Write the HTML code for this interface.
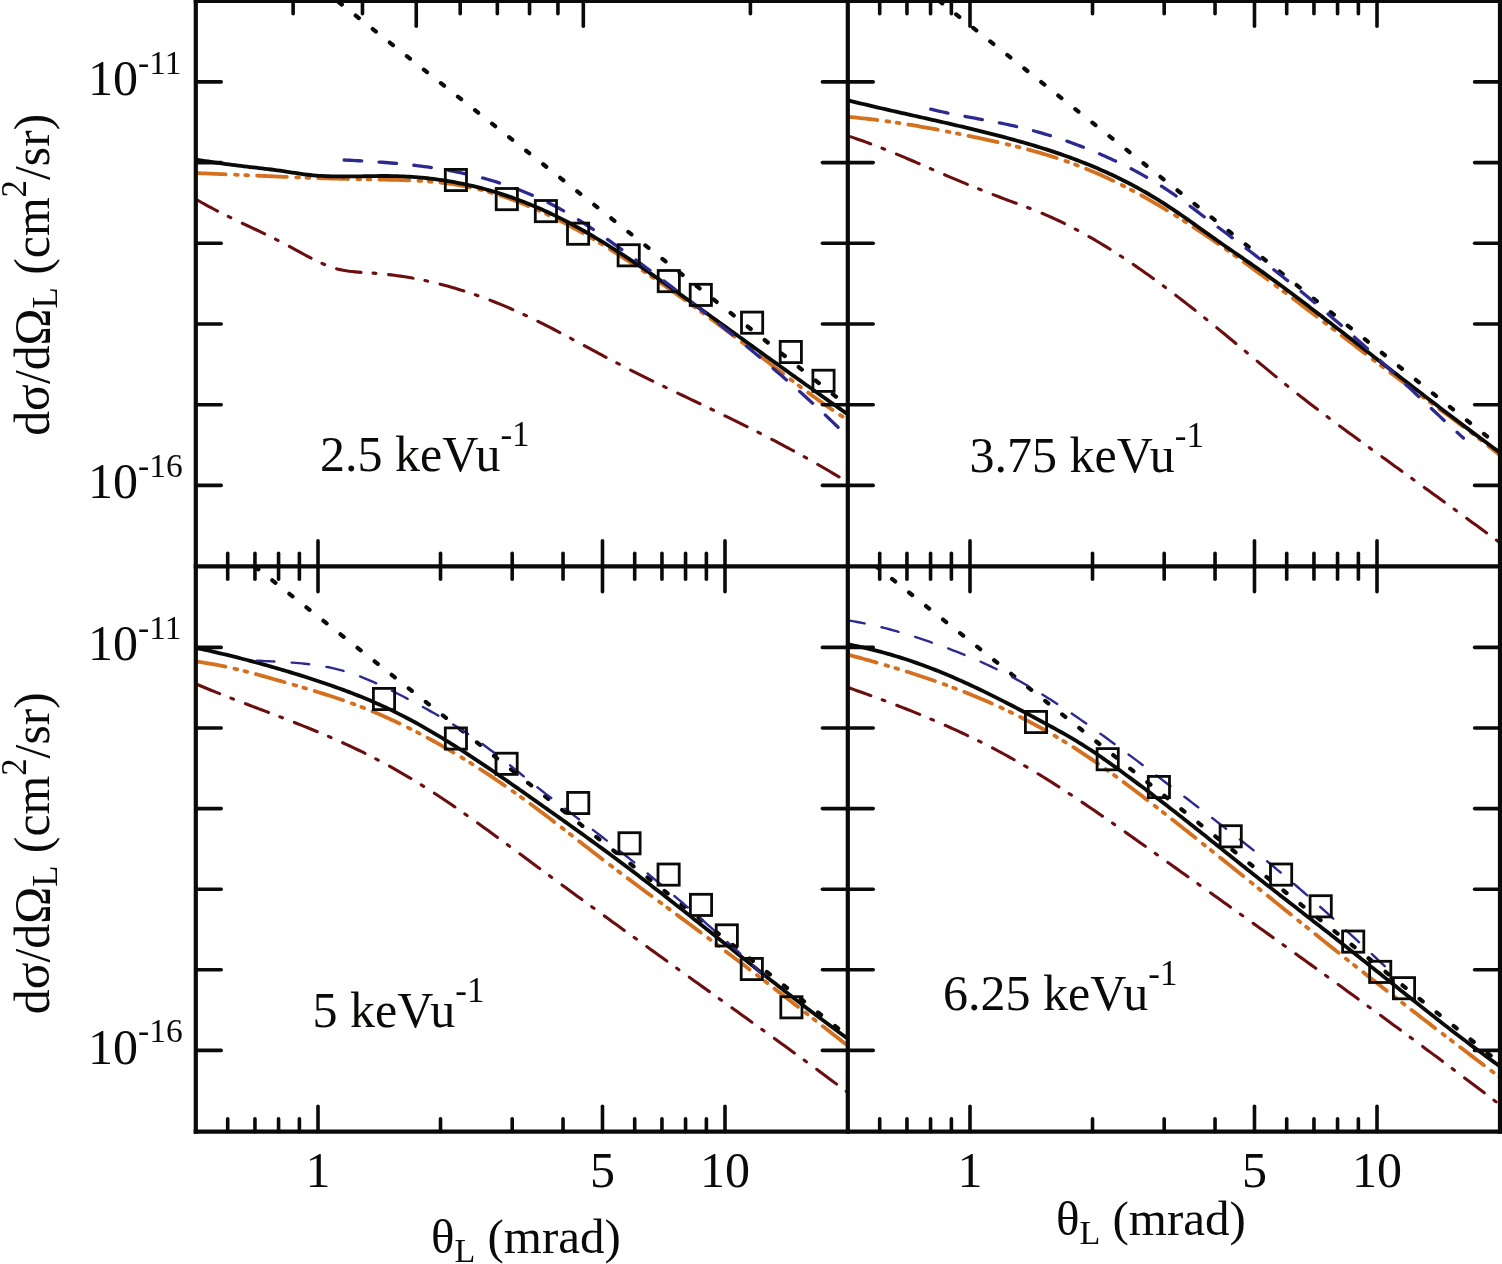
<!DOCTYPE html><html><head><meta charset="utf-8"><style>
html,body{margin:0;padding:0;background:#fff;}
svg{display:block;}
text{font-family:"Liberation Serif","DejaVu Serif",serif;fill:#0a0a08;}
</style></head><body>
<svg width="1502" height="1264" viewBox="0 0 1502 1264">
<rect x="0" y="0" width="1502" height="1264" fill="#fff"/>
<defs>
<clipPath id="cTL"><rect x="195.8" y="0.9" width="652.0" height="565.5"/></clipPath>
<clipPath id="cTR"><rect x="847.8" y="0.9" width="652.2" height="565.5"/></clipPath>
<clipPath id="cBL"><rect x="195.8" y="566.4" width="652.0" height="565.2"/></clipPath>
<clipPath id="cBR"><rect x="847.8" y="566.4" width="652.2" height="565.2"/></clipPath>
</defs>
<g clip-path="url(#cTL)">
<path d="M332.23,-3.10 L849.80,407.59" stroke="#0a0a08" stroke-width="4.2" fill="none" stroke-dasharray="4 17.75" stroke-linecap="round" stroke-dashoffset="-8.25"/>
<path d="M196.00,199.28 L199.00,201.02 L202.01,202.73 L205.01,204.41 L208.02,206.05 L211.02,207.66 L214.03,209.25 L217.03,210.81 L220.04,212.34 L223.04,213.86 L226.05,215.36 L229.05,216.84 L232.06,218.30 L235.06,219.76 L238.06,221.20 L241.07,222.64 L244.07,224.07 L247.08,225.49 L250.08,226.92 L253.09,228.34 L256.09,229.77 L259.10,231.20 L262.10,232.64 L265.11,234.09 L268.11,235.55 L271.12,237.03 L274.12,238.52 L277.12,240.02 L280.13,241.55 L283.13,243.10 L286.14,244.68 L289.14,246.28 L292.15,247.91 L295.15,249.55 L298.16,251.21 L301.16,252.86 L304.17,254.50 L307.17,256.12 L310.18,257.71 L313.18,259.25 L316.18,260.75 L319.19,262.18 L322.19,263.54 L325.20,264.81 L328.20,266.00 L331.21,267.08 L334.21,268.05 L337.22,268.89 L340.22,269.62 L343.23,270.24 L346.23,270.77 L349.24,271.21 L352.24,271.58 L355.24,271.89 L358.25,272.16 L361.25,272.38 L364.26,272.58 L367.26,272.77 L370.27,272.96 L373.27,273.17 L376.28,273.39 L379.28,273.64 L382.29,273.92 L385.29,274.22 L388.29,274.55 L391.30,274.90 L394.30,275.28 L397.31,275.68 L400.31,276.11 L403.32,276.57 L406.32,277.05 L409.33,277.56 L412.33,278.09 L415.34,278.64 L418.34,279.22 L421.35,279.83 L424.35,280.46 L427.35,281.11 L430.36,281.79 L433.36,282.50 L436.37,283.22 L439.37,283.97 L442.38,284.75 L445.38,285.55 L448.39,286.37 L451.39,287.22 L454.40,288.09 L457.40,288.98 L460.41,289.90 L463.41,290.84 L466.41,291.81 L469.42,292.79 L472.42,293.80 L475.43,294.83 L478.43,295.89 L481.44,296.97 L484.44,298.07 L487.45,299.19 L490.45,300.34 L493.46,301.51 L496.46,302.70 L499.47,303.91 L502.47,305.14 L505.47,306.40 L508.48,307.67 L511.48,308.97 L514.49,310.29 L517.49,311.64 L520.50,313.00 L523.50,314.39 L526.51,315.79 L529.51,317.22 L532.52,318.66 L535.52,320.13 L538.53,321.61 L541.53,323.11 L544.53,324.62 L547.54,326.15 L550.54,327.69 L553.55,329.25 L556.55,330.81 L559.56,332.39 L562.56,333.97 L565.57,335.57 L568.57,337.17 L571.58,338.77 L574.58,340.39 L577.59,342.00 L580.59,343.62 L583.59,345.24 L586.60,346.86 L589.60,348.48 L592.61,350.10 L595.61,351.72 L598.62,353.33 L601.62,354.94 L604.63,356.55 L607.63,358.15 L610.64,359.74 L613.64,361.32 L616.65,362.89 L619.65,364.45 L622.65,366.01 L625.66,367.55 L628.66,369.08 L631.67,370.60 L634.67,372.11 L637.68,373.62 L640.68,375.11 L643.69,376.60 L646.69,378.08 L649.70,379.56 L652.70,381.03 L655.71,382.49 L658.71,383.95 L661.71,385.40 L664.72,386.85 L667.72,388.30 L670.73,389.74 L673.73,391.18 L676.74,392.62 L679.74,394.06 L682.75,395.50 L685.75,396.93 L688.76,398.37 L691.76,399.80 L694.76,401.24 L697.77,402.68 L700.77,404.11 L703.78,405.56 L706.78,407.00 L709.79,408.45 L712.79,409.90 L715.80,411.35 L718.80,412.81 L721.81,414.27 L724.81,415.73 L727.82,417.20 L730.82,418.67 L733.82,420.15 L736.83,421.63 L739.83,423.12 L742.84,424.62 L745.84,426.12 L748.85,427.62 L751.85,429.14 L754.86,430.65 L757.86,432.18 L760.87,433.71 L763.87,435.25 L766.88,436.80 L769.88,438.36 L772.88,439.92 L775.89,441.49 L778.89,443.07 L781.90,444.66 L784.90,446.26 L787.91,447.87 L790.91,449.49 L793.92,451.12 L796.92,452.76 L799.93,454.40 L802.93,456.06 L805.94,457.73 L808.94,459.41 L811.94,461.11 L814.95,462.81 L817.95,464.53 L820.96,466.26 L823.96,468.00 L826.97,469.75 L829.97,471.52 L832.98,473.30 L835.98,475.09 L838.99,476.90 L841.99,478.72 L845.00,480.55 L848.00,482.40" stroke="#6a0e10" stroke-width="3.1" fill="none" stroke-dasharray="24.7 12.1 2.8 12.8" stroke-linecap="round" stroke-dashoffset="0.20"/>
<path d="M196.00,173.10 L199.00,173.22 L202.01,173.33 L205.01,173.45 L208.02,173.57 L211.02,173.70 L214.03,173.82 L217.03,173.94 L220.04,174.07 L223.04,174.20 L226.05,174.32 L229.05,174.45 L232.06,174.58 L235.06,174.71 L238.06,174.84 L241.07,174.97 L244.07,175.10 L247.08,175.23 L250.08,175.36 L253.09,175.50 L256.09,175.63 L259.10,175.76 L262.10,175.89 L265.11,176.02 L268.11,176.15 L271.12,176.27 L274.12,176.40 L277.12,176.53 L280.13,176.65 L283.13,176.78 L286.14,176.90 L289.14,177.03 L292.15,177.15 L295.15,177.27 L298.16,177.38 L301.16,177.50 L304.17,177.61 L307.17,177.73 L310.18,177.84 L313.18,177.94 L316.18,178.05 L319.19,178.15 L322.19,178.25 L325.20,178.35 L328.20,178.45 L331.21,178.54 L334.21,178.63 L337.22,178.72 L340.22,178.80 L343.23,178.88 L346.23,178.96 L349.24,179.04 L352.24,179.11 L355.24,179.17 L358.25,179.24 L361.25,179.30 L364.26,179.35 L367.26,179.41 L370.27,179.45 L373.27,179.50 L376.28,179.55 L379.28,179.59 L382.29,179.64 L385.29,179.69 L388.29,179.75 L391.30,179.81 L394.30,179.88 L397.31,179.95 L400.31,180.03 L403.32,180.13 L406.32,180.23 L409.33,180.35 L412.33,180.48 L415.34,180.63 L418.34,180.79 L421.35,180.97 L424.35,181.17 L427.35,181.39 L430.36,181.63 L433.36,181.89 L436.37,182.17 L439.37,182.48 L442.38,182.82 L445.38,183.18 L448.39,183.57 L451.39,183.99 L454.40,184.44 L457.40,184.92 L460.41,185.44 L463.41,185.98 L466.41,186.57 L469.42,187.19 L472.42,187.84 L475.43,188.53 L478.43,189.26 L481.44,190.01 L484.44,190.81 L487.45,191.63 L490.45,192.49 L493.46,193.38 L496.46,194.30 L499.47,195.26 L502.47,196.24 L505.47,197.26 L508.48,198.31 L511.48,199.38 L514.49,200.49 L517.49,201.63 L520.50,202.80 L523.50,204.00 L526.51,205.22 L529.51,206.48 L532.52,207.76 L535.52,209.07 L538.53,210.41 L541.53,211.77 L544.53,213.16 L547.54,214.58 L550.54,216.03 L553.55,217.50 L556.55,218.99 L559.56,220.51 L562.56,222.06 L565.57,223.62 L568.57,225.21 L571.58,226.83 L574.58,228.47 L577.59,230.12 L580.59,231.81 L583.59,233.51 L586.60,235.23 L589.60,236.97 L592.61,238.73 L595.61,240.52 L598.62,242.32 L601.62,244.14 L604.63,245.97 L607.63,247.83 L610.64,249.70 L613.64,251.59 L616.65,253.49 L619.65,255.41 L622.65,257.35 L625.66,259.30 L628.66,261.26 L631.67,263.24 L634.67,265.23 L637.68,267.24 L640.68,269.25 L643.69,271.28 L646.69,273.32 L649.70,275.38 L652.70,277.44 L655.71,279.51 L658.71,281.60 L661.71,283.69 L664.72,285.79 L667.72,287.90 L670.73,290.02 L673.73,292.14 L676.74,294.28 L679.74,296.41 L682.75,298.56 L685.75,300.71 L688.76,302.87 L691.76,305.03 L694.76,307.20 L697.77,309.37 L700.77,311.56 L703.78,313.74 L706.78,315.94 L709.79,318.14 L712.79,320.34 L715.80,322.56 L718.80,324.78 L721.81,327.01 L724.81,329.24 L727.82,331.49 L730.82,333.74 L733.82,335.99 L736.83,338.26 L739.83,340.53 L742.84,342.81 L745.84,345.10 L748.85,347.40 L751.85,349.70 L754.86,352.00 L757.86,354.31 L760.87,356.63 L763.87,358.94 L766.88,361.25 L769.88,363.57 L772.88,365.88 L775.89,368.19 L778.89,370.50 L781.90,372.81 L784.90,375.11 L787.91,377.40 L790.91,379.69 L793.92,381.96 L796.92,384.23 L799.93,386.49 L802.93,388.73 L805.94,390.96 L808.94,393.18 L811.94,395.38 L814.95,397.56 L817.95,399.73 L820.96,401.87 L823.96,404.00 L826.97,406.10 L829.97,408.19 L832.98,410.24 L835.98,412.28 L838.99,414.28 L841.99,416.26 L845.00,418.21 L848.00,420.13" stroke="#d4701e" stroke-width="3.8" fill="none" stroke-dasharray="29.8 9.3 2.8 7.5 2.8 9" stroke-linecap="round" stroke-dashoffset="0.06"/>
<path d="M196.00,159.63 L199.00,160.11 L202.01,160.57 L205.01,161.03 L208.02,161.48 L211.02,161.93 L214.03,162.36 L217.03,162.79 L220.04,163.21 L223.04,163.62 L226.05,164.03 L229.05,164.42 L232.06,164.82 L235.06,165.20 L238.06,165.58 L241.07,165.95 L244.07,166.32 L247.08,166.68 L250.08,167.03 L253.09,167.38 L256.09,167.73 L259.10,168.08 L262.10,168.42 L265.11,168.77 L268.11,169.13 L271.12,169.50 L274.12,169.88 L277.12,170.28 L280.13,170.70 L283.13,171.14 L286.14,171.59 L289.14,172.06 L292.15,172.53 L295.15,172.99 L298.16,173.44 L301.16,173.87 L304.17,174.28 L307.17,174.66 L310.18,175.00 L313.18,175.29 L316.18,175.55 L319.19,175.77 L322.19,175.95 L325.20,176.11 L328.20,176.23 L331.21,176.32 L334.21,176.40 L337.22,176.44 L340.22,176.47 L343.23,176.48 L346.23,176.47 L349.24,176.45 L352.24,176.42 L355.24,176.38 L358.25,176.33 L361.25,176.28 L364.26,176.23 L367.26,176.17 L370.27,176.12 L373.27,176.08 L376.28,176.04 L379.28,176.01 L382.29,176.00 L385.29,176.00 L388.29,176.01 L391.30,176.05 L394.30,176.10 L397.31,176.18 L400.31,176.28 L403.32,176.41 L406.32,176.56 L409.33,176.73 L412.33,176.92 L415.34,177.14 L418.34,177.39 L421.35,177.65 L424.35,177.94 L427.35,178.26 L430.36,178.60 L433.36,178.96 L436.37,179.35 L439.37,179.76 L442.38,180.20 L445.38,180.66 L448.39,181.15 L451.39,181.66 L454.40,182.20 L457.40,182.76 L460.41,183.35 L463.41,183.97 L466.41,184.61 L469.42,185.27 L472.42,185.96 L475.43,186.68 L478.43,187.43 L481.44,188.20 L484.44,188.99 L487.45,189.82 L490.45,190.67 L493.46,191.55 L496.46,192.45 L499.47,193.38 L502.47,194.34 L505.47,195.32 L508.48,196.34 L511.48,197.38 L514.49,198.45 L517.49,199.54 L520.50,200.67 L523.50,201.82 L526.51,203.00 L529.51,204.21 L532.52,205.44 L535.52,206.71 L538.53,208.00 L541.53,209.33 L544.53,210.68 L547.54,212.06 L550.54,213.47 L553.55,214.91 L556.55,216.37 L559.56,217.87 L562.56,219.39 L565.57,220.94 L568.57,222.52 L571.58,224.12 L574.58,225.74 L577.59,227.39 L580.59,229.06 L583.59,230.76 L586.60,232.48 L589.60,234.22 L592.61,235.99 L595.61,237.77 L598.62,239.58 L601.62,241.40 L604.63,243.24 L607.63,245.11 L610.64,246.99 L613.64,248.89 L616.65,250.80 L619.65,252.73 L622.65,254.68 L625.66,256.64 L628.66,258.62 L631.67,260.61 L634.67,262.62 L637.68,264.64 L640.68,266.67 L643.69,268.71 L646.69,270.77 L649.70,272.83 L652.70,274.91 L655.71,276.99 L658.71,279.09 L661.71,281.19 L664.72,283.30 L667.72,285.42 L670.73,287.55 L673.73,289.68 L676.74,291.81 L679.74,293.96 L682.75,296.10 L685.75,298.25 L688.76,300.41 L691.76,302.57 L694.76,304.73 L697.77,306.89 L700.77,309.05 L703.78,311.21 L706.78,313.38 L709.79,315.54 L712.79,317.71 L715.80,319.87 L718.80,322.04 L721.81,324.20 L724.81,326.37 L727.82,328.54 L730.82,330.70 L733.82,332.87 L736.83,335.04 L739.83,337.20 L742.84,339.37 L745.84,341.54 L748.85,343.70 L751.85,345.87 L754.86,348.03 L757.86,350.20 L760.87,352.36 L763.87,354.52 L766.88,356.68 L769.88,358.84 L772.88,361.00 L775.89,363.16 L778.89,365.32 L781.90,367.48 L784.90,369.63 L787.91,371.79 L790.91,373.94 L793.92,376.09 L796.92,378.24 L799.93,380.39 L802.93,382.54 L805.94,384.68 L808.94,386.82 L811.94,388.96 L814.95,391.10 L817.95,393.24 L820.96,395.37 L823.96,397.51 L826.97,399.64 L829.97,401.76 L832.98,403.89 L835.98,406.01 L838.99,408.13 L841.99,410.25 L845.00,412.36 L848.00,414.48" stroke="#0a0a08" stroke-width="3.8" fill="none" stroke-linejoin="round" stroke-linecap="round"/>
<path d="M343.20,159.98 L346.20,160.12 L349.20,160.27 L352.21,160.42 L355.21,160.58 L358.21,160.74 L361.21,160.91 L364.21,161.08 L367.21,161.26 L370.22,161.44 L373.22,161.64 L376.22,161.84 L379.22,162.05 L382.22,162.27 L385.23,162.50 L388.23,162.74 L391.23,162.99 L394.23,163.25 L397.23,163.52 L400.23,163.80 L403.24,164.09 L406.24,164.40 L409.24,164.72 L412.24,165.06 L415.24,165.40 L418.25,165.77 L421.25,166.15 L424.25,166.54 L427.25,166.95 L430.25,167.38 L433.25,167.82 L436.26,168.28 L439.26,168.76 L442.26,169.26 L445.26,169.78 L448.26,170.31 L451.27,170.87 L454.27,171.44 L457.27,172.04 L460.27,172.66 L463.27,173.30 L466.27,173.97 L469.28,174.65 L472.28,175.36 L475.28,176.10 L478.28,176.85 L481.28,177.64 L484.29,178.44 L487.29,179.28 L490.29,180.14 L493.29,181.02 L496.29,181.94 L499.29,182.88 L502.30,183.85 L505.30,184.85 L508.30,185.87 L511.30,186.93 L514.30,188.02 L517.31,189.14 L520.31,190.29 L523.31,191.48 L526.31,192.70 L529.31,193.95 L532.31,195.24 L535.32,196.56 L538.32,197.92 L541.32,199.31 L544.32,200.74 L547.32,202.21 L550.33,203.72 L553.33,205.27 L556.33,206.86 L559.33,208.49 L562.33,210.16 L565.33,211.87 L568.34,213.62 L571.34,215.41 L574.34,217.24 L577.34,219.10 L580.34,221.00 L583.35,222.93 L586.35,224.89 L589.35,226.87 L592.35,228.89 L595.35,230.92 L598.35,232.98 L601.36,235.06 L604.36,237.16 L607.36,239.28 L610.36,241.41 L613.36,243.56 L616.37,245.72 L619.37,247.89 L622.37,250.07 L625.37,252.25 L628.37,254.44 L631.37,256.64 L634.38,258.85 L637.38,261.06 L640.38,263.28 L643.38,265.51 L646.38,267.74 L649.39,269.99 L652.39,272.23 L655.39,274.49 L658.39,276.75 L661.39,279.02 L664.39,281.30 L667.40,283.58 L670.40,285.87 L673.40,288.17 L676.40,290.47 L679.40,292.78 L682.41,295.10 L685.41,297.42 L688.41,299.75 L691.41,302.09 L694.41,304.43 L697.41,306.78 L700.42,309.14 L703.42,311.50 L706.42,313.88 L709.42,316.25 L712.42,318.64 L715.43,321.03 L718.43,323.42 L721.43,325.82 L724.43,328.23 L727.43,330.65 L730.43,333.07 L733.44,335.50 L736.44,337.94 L739.44,340.38 L742.44,342.83 L745.44,345.28 L748.45,347.75 L751.45,350.22 L754.45,352.71 L757.45,355.20 L760.45,357.70 L763.45,360.21 L766.46,362.74 L769.46,365.27 L772.46,367.82 L775.46,370.38 L778.46,372.95 L781.47,375.53 L784.47,378.13 L787.47,380.74 L790.47,383.37 L793.47,386.01 L796.47,388.66 L799.48,391.33 L802.48,394.02 L805.48,396.73 L808.48,399.45 L811.48,402.19 L814.49,404.94 L817.49,407.72 L820.49,410.51 L823.49,413.32 L826.49,416.16 L829.49,419.01 L832.50,421.88 L835.50,424.78 L838.50,427.69" stroke="#2c2a8e" stroke-width="3.3" fill="none" stroke-dasharray="17.6 17.4" stroke-linecap="round" stroke-dashoffset="34.10"/>
<rect x="445.30" y="169.40" width="21.2" height="21.2" fill="none" stroke="#0a0a08" stroke-width="2.8"/>
<rect x="496.20" y="188.50" width="21.2" height="21.2" fill="none" stroke="#0a0a08" stroke-width="2.8"/>
<rect x="535.30" y="200.50" width="21.2" height="21.2" fill="none" stroke="#0a0a08" stroke-width="2.8"/>
<rect x="567.50" y="223.10" width="21.2" height="21.2" fill="none" stroke="#0a0a08" stroke-width="2.8"/>
<rect x="618.10" y="244.70" width="21.2" height="21.2" fill="none" stroke="#0a0a08" stroke-width="2.8"/>
<rect x="658.20" y="270.50" width="21.2" height="21.2" fill="none" stroke="#0a0a08" stroke-width="2.8"/>
<rect x="690.20" y="284.30" width="21.2" height="21.2" fill="none" stroke="#0a0a08" stroke-width="2.8"/>
<rect x="741.50" y="312.10" width="21.2" height="21.2" fill="none" stroke="#0a0a08" stroke-width="2.8"/>
<rect x="780.20" y="341.40" width="21.2" height="21.2" fill="none" stroke="#0a0a08" stroke-width="2.8"/>
<rect x="812.90" y="370.20" width="21.2" height="21.2" fill="none" stroke="#0a0a08" stroke-width="2.8"/>
</g>
<g clip-path="url(#cTR)">
<path d="M934.18,-3.10 L1502.00,448.31" stroke="#0a0a08" stroke-width="4.2" fill="none" stroke-dasharray="4 17.75" stroke-linecap="round" stroke-dashoffset="-6.32"/>
<path d="M848.00,135.91 L851.00,136.89 L854.01,137.89 L857.01,138.91 L860.02,139.96 L863.02,141.03 L866.03,142.11 L869.03,143.22 L872.04,144.35 L875.04,145.49 L878.05,146.65 L881.05,147.83 L884.06,149.02 L887.06,150.22 L890.06,151.44 L893.07,152.67 L896.07,153.91 L899.08,155.16 L902.08,156.42 L905.09,157.69 L908.09,158.97 L911.10,160.25 L914.10,161.54 L917.11,162.83 L920.11,164.13 L923.12,165.42 L926.12,166.73 L929.12,168.03 L932.13,169.33 L935.13,170.63 L938.14,171.93 L941.14,173.23 L944.15,174.52 L947.15,175.81 L950.16,177.09 L953.16,178.37 L956.17,179.64 L959.17,180.90 L962.18,182.16 L965.18,183.40 L968.18,184.64 L971.19,185.88 L974.19,187.10 L977.20,188.31 L980.20,189.52 L983.21,190.72 L986.21,191.91 L989.22,193.09 L992.22,194.26 L995.23,195.42 L998.23,196.57 L1001.24,197.72 L1004.24,198.85 L1007.24,199.97 L1010.25,201.09 L1013.25,202.20 L1016.26,203.30 L1019.26,204.41 L1022.27,205.53 L1025.27,206.65 L1028.28,207.78 L1031.28,208.94 L1034.29,210.11 L1037.29,211.30 L1040.29,212.52 L1043.30,213.78 L1046.30,215.06 L1049.31,216.38 L1052.31,217.72 L1055.32,219.10 L1058.32,220.51 L1061.33,221.95 L1064.33,223.42 L1067.34,224.92 L1070.34,226.45 L1073.35,228.01 L1076.35,229.60 L1079.35,231.21 L1082.36,232.85 L1085.36,234.52 L1088.37,236.22 L1091.37,237.94 L1094.38,239.68 L1097.38,241.46 L1100.39,243.25 L1103.39,245.08 L1106.40,246.92 L1109.40,248.79 L1112.41,250.68 L1115.41,252.60 L1118.41,254.54 L1121.42,256.50 L1124.42,258.48 L1127.43,260.49 L1130.43,262.51 L1133.44,264.55 L1136.44,266.62 L1139.45,268.70 L1142.45,270.81 L1145.46,272.93 L1148.46,275.07 L1151.47,277.23 L1154.47,279.40 L1157.47,281.60 L1160.48,283.81 L1163.48,286.03 L1166.49,288.27 L1169.49,290.53 L1172.50,292.80 L1175.50,295.09 L1178.51,297.39 L1181.51,299.70 L1184.52,302.03 L1187.52,304.37 L1190.53,306.72 L1193.53,309.09 L1196.53,311.47 L1199.54,313.85 L1202.54,316.25 L1205.55,318.66 L1208.55,321.08 L1211.56,323.51 L1214.56,325.95 L1217.57,328.39 L1220.57,330.85 L1223.58,333.31 L1226.58,335.78 L1229.59,338.26 L1232.59,340.74 L1235.59,343.23 L1238.60,345.72 L1241.60,348.22 L1244.61,350.71 L1247.61,353.21 L1250.62,355.71 L1253.62,358.21 L1256.63,360.70 L1259.63,363.19 L1262.64,365.68 L1265.64,368.16 L1268.65,370.64 L1271.65,373.11 L1274.65,375.58 L1277.66,378.03 L1280.66,380.48 L1283.67,382.91 L1286.67,385.34 L1289.68,387.75 L1292.68,390.15 L1295.69,392.53 L1298.69,394.90 L1301.70,397.25 L1304.70,399.59 L1307.71,401.91 L1310.71,404.23 L1313.71,406.53 L1316.72,408.81 L1319.72,411.09 L1322.73,413.36 L1325.73,415.61 L1328.74,417.86 L1331.74,420.10 L1334.75,422.33 L1337.75,424.55 L1340.76,426.77 L1343.76,428.98 L1346.76,431.19 L1349.77,433.39 L1352.77,435.59 L1355.78,437.78 L1358.78,439.97 L1361.79,442.16 L1364.79,444.35 L1367.80,446.53 L1370.80,448.71 L1373.81,450.90 L1376.81,453.08 L1379.82,455.26 L1382.82,457.44 L1385.82,459.62 L1388.83,461.79 L1391.83,463.97 L1394.84,466.15 L1397.84,468.32 L1400.85,470.50 L1403.85,472.67 L1406.86,474.85 L1409.86,477.02 L1412.87,479.20 L1415.87,481.37 L1418.88,483.55 L1421.88,485.72 L1424.88,487.90 L1427.89,490.08 L1430.89,492.25 L1433.90,494.43 L1436.90,496.61 L1439.91,498.79 L1442.91,500.98 L1445.92,503.16 L1448.92,505.34 L1451.93,507.53 L1454.93,509.72 L1457.94,511.91 L1460.94,514.10 L1463.94,516.29 L1466.95,518.49 L1469.95,520.69 L1472.96,522.89 L1475.96,525.09 L1478.97,527.30 L1481.97,529.51 L1484.98,531.72 L1487.98,533.93 L1490.99,536.15 L1493.99,538.37 L1497.00,540.59 L1500.00,542.82" stroke="#6a0e10" stroke-width="3.1" fill="none" stroke-dasharray="24.7 12.1 2.8 12.8" stroke-linecap="round" stroke-dashoffset="0.64"/>
<path d="M848.00,116.90 L851.00,117.16 L854.01,117.44 L857.01,117.72 L860.02,118.03 L863.02,118.34 L866.03,118.67 L869.03,119.01 L872.04,119.36 L875.04,119.73 L878.05,120.10 L881.05,120.49 L884.06,120.89 L887.06,121.30 L890.06,121.73 L893.07,122.16 L896.07,122.61 L899.08,123.06 L902.08,123.53 L905.09,124.00 L908.09,124.48 L911.10,124.98 L914.10,125.48 L917.11,125.99 L920.11,126.51 L923.12,127.04 L926.12,127.58 L929.12,128.12 L932.13,128.67 L935.13,129.23 L938.14,129.80 L941.14,130.37 L944.15,130.95 L947.15,131.54 L950.16,132.13 L953.16,132.73 L956.17,133.33 L959.17,133.94 L962.18,134.55 L965.18,135.17 L968.18,135.80 L971.19,136.43 L974.19,137.06 L977.20,137.69 L980.20,138.33 L983.21,138.98 L986.21,139.63 L989.22,140.28 L992.22,140.94 L995.23,141.60 L998.23,142.28 L1001.24,142.96 L1004.24,143.65 L1007.24,144.35 L1010.25,145.06 L1013.25,145.78 L1016.26,146.52 L1019.26,147.27 L1022.27,148.03 L1025.27,148.80 L1028.28,149.60 L1031.28,150.40 L1034.29,151.23 L1037.29,152.07 L1040.29,152.93 L1043.30,153.81 L1046.30,154.71 L1049.31,155.63 L1052.31,156.57 L1055.32,157.54 L1058.32,158.52 L1061.33,159.53 L1064.33,160.57 L1067.34,161.63 L1070.34,162.71 L1073.35,163.81 L1076.35,164.94 L1079.35,166.10 L1082.36,167.28 L1085.36,168.48 L1088.37,169.71 L1091.37,170.96 L1094.38,172.23 L1097.38,173.54 L1100.39,174.86 L1103.39,176.21 L1106.40,177.59 L1109.40,178.99 L1112.41,180.42 L1115.41,181.87 L1118.41,183.34 L1121.42,184.84 L1124.42,186.37 L1127.43,187.92 L1130.43,189.49 L1133.44,191.08 L1136.44,192.70 L1139.45,194.34 L1142.45,196.00 L1145.46,197.68 L1148.46,199.38 L1151.47,201.10 L1154.47,202.84 L1157.47,204.61 L1160.48,206.39 L1163.48,208.19 L1166.49,210.01 L1169.49,211.85 L1172.50,213.70 L1175.50,215.58 L1178.51,217.47 L1181.51,219.38 L1184.52,221.30 L1187.52,223.24 L1190.53,225.19 L1193.53,227.17 L1196.53,229.15 L1199.54,231.15 L1202.54,233.17 L1205.55,235.19 L1208.55,237.23 L1211.56,239.29 L1214.56,241.35 L1217.57,243.43 L1220.57,245.52 L1223.58,247.63 L1226.58,249.74 L1229.59,251.86 L1232.59,254.00 L1235.59,256.14 L1238.60,258.30 L1241.60,260.46 L1244.61,262.63 L1247.61,264.81 L1250.62,267.00 L1253.62,269.20 L1256.63,271.40 L1259.63,273.61 L1262.64,275.83 L1265.64,278.05 L1268.65,280.28 L1271.65,282.51 L1274.65,284.75 L1277.66,287.00 L1280.66,289.25 L1283.67,291.50 L1286.67,293.76 L1289.68,296.02 L1292.68,298.29 L1295.69,300.56 L1298.69,302.84 L1301.70,305.11 L1304.70,307.39 L1307.71,309.68 L1310.71,311.96 L1313.71,314.25 L1316.72,316.54 L1319.72,318.83 L1322.73,321.13 L1325.73,323.42 L1328.74,325.72 L1331.74,328.02 L1334.75,330.31 L1337.75,332.61 L1340.76,334.91 L1343.76,337.21 L1346.76,339.51 L1349.77,341.81 L1352.77,344.10 L1355.78,346.40 L1358.78,348.70 L1361.79,350.99 L1364.79,353.28 L1367.80,355.57 L1370.80,357.86 L1373.81,360.15 L1376.81,362.43 L1379.82,364.71 L1382.82,366.99 L1385.82,369.26 L1388.83,371.53 L1391.83,373.80 L1394.84,376.06 L1397.84,378.32 L1400.85,380.57 L1403.85,382.82 L1406.86,385.07 L1409.86,387.31 L1412.87,389.54 L1415.87,391.77 L1418.88,393.99 L1421.88,396.21 L1424.88,398.42 L1427.89,400.63 L1430.89,402.83 L1433.90,405.03 L1436.90,407.22 L1439.91,409.42 L1442.91,411.62 L1445.92,413.82 L1448.92,416.02 L1451.93,418.23 L1454.93,420.45 L1457.94,422.67 L1460.94,424.90 L1463.94,427.14 L1466.95,429.40 L1469.95,431.66 L1472.96,433.94 L1475.96,436.24 L1478.97,438.55 L1481.97,440.88 L1484.98,443.23 L1487.98,445.60 L1490.99,447.99 L1493.99,450.41 L1497.00,452.85 L1500.00,455.31" stroke="#d4701e" stroke-width="3.8" fill="none" stroke-dasharray="29.8 9.3 2.8 7.5 2.8 9" stroke-linecap="round" stroke-dashoffset="0.38"/>
<path d="M848.00,100.34 L851.00,101.08 L854.01,101.82 L857.01,102.55 L860.02,103.28 L863.02,104.00 L866.03,104.72 L869.03,105.43 L872.04,106.14 L875.04,106.84 L878.05,107.54 L881.05,108.23 L884.06,108.93 L887.06,109.62 L890.06,110.30 L893.07,110.99 L896.07,111.67 L899.08,112.35 L902.08,113.03 L905.09,113.70 L908.09,114.38 L911.10,115.06 L914.10,115.73 L917.11,116.40 L920.11,117.08 L923.12,117.75 L926.12,118.43 L929.12,119.11 L932.13,119.79 L935.13,120.47 L938.14,121.15 L941.14,121.83 L944.15,122.52 L947.15,123.21 L950.16,123.90 L953.16,124.59 L956.17,125.29 L959.17,125.99 L962.18,126.70 L965.18,127.41 L968.18,128.13 L971.19,128.85 L974.19,129.57 L977.20,130.31 L980.20,131.04 L983.21,131.79 L986.21,132.54 L989.22,133.29 L992.22,134.06 L995.23,134.83 L998.23,135.61 L1001.24,136.39 L1004.24,137.19 L1007.24,137.99 L1010.25,138.80 L1013.25,139.62 L1016.26,140.46 L1019.26,141.30 L1022.27,142.15 L1025.27,143.01 L1028.28,143.89 L1031.28,144.77 L1034.29,145.67 L1037.29,146.59 L1040.29,147.51 L1043.30,148.45 L1046.30,149.41 L1049.31,150.38 L1052.31,151.37 L1055.32,152.37 L1058.32,153.39 L1061.33,154.42 L1064.33,155.47 L1067.34,156.54 L1070.34,157.63 L1073.35,158.74 L1076.35,159.87 L1079.35,161.02 L1082.36,162.18 L1085.36,163.37 L1088.37,164.58 L1091.37,165.82 L1094.38,167.07 L1097.38,168.35 L1100.39,169.65 L1103.39,170.97 L1106.40,172.32 L1109.40,173.69 L1112.41,175.09 L1115.41,176.51 L1118.41,177.96 L1121.42,179.44 L1124.42,180.94 L1127.43,182.48 L1130.43,184.04 L1133.44,185.62 L1136.44,187.24 L1139.45,188.89 L1142.45,190.56 L1145.46,192.27 L1148.46,194.01 L1151.47,195.78 L1154.47,197.58 L1157.47,199.42 L1160.48,201.28 L1163.48,203.18 L1166.49,205.12 L1169.49,207.08 L1172.50,209.08 L1175.50,211.10 L1178.51,213.15 L1181.51,215.22 L1184.52,217.31 L1187.52,219.41 L1190.53,221.53 L1193.53,223.66 L1196.53,225.80 L1199.54,227.94 L1202.54,230.09 L1205.55,232.24 L1208.55,234.38 L1211.56,236.52 L1214.56,238.66 L1217.57,240.78 L1220.57,242.89 L1223.58,244.99 L1226.58,247.07 L1229.59,249.15 L1232.59,251.22 L1235.59,253.29 L1238.60,255.35 L1241.60,257.42 L1244.61,259.49 L1247.61,261.57 L1250.62,263.67 L1253.62,265.77 L1256.63,267.89 L1259.63,270.02 L1262.64,272.17 L1265.64,274.32 L1268.65,276.49 L1271.65,278.68 L1274.65,280.87 L1277.66,283.07 L1280.66,285.29 L1283.67,287.51 L1286.67,289.75 L1289.68,291.99 L1292.68,294.24 L1295.69,296.50 L1298.69,298.77 L1301.70,301.04 L1304.70,303.32 L1307.71,305.61 L1310.71,307.90 L1313.71,310.20 L1316.72,312.50 L1319.72,314.81 L1322.73,317.12 L1325.73,319.43 L1328.74,321.75 L1331.74,324.07 L1334.75,326.39 L1337.75,328.71 L1340.76,331.04 L1343.76,333.36 L1346.76,335.69 L1349.77,338.02 L1352.77,340.35 L1355.78,342.68 L1358.78,345.01 L1361.79,347.34 L1364.79,349.67 L1367.80,352.01 L1370.80,354.34 L1373.81,356.67 L1376.81,359.00 L1379.82,361.33 L1382.82,363.66 L1385.82,365.99 L1388.83,368.32 L1391.83,370.65 L1394.84,372.98 L1397.84,375.31 L1400.85,377.63 L1403.85,379.95 L1406.86,382.28 L1409.86,384.60 L1412.87,386.91 L1415.87,389.23 L1418.88,391.54 L1421.88,393.85 L1424.88,396.16 L1427.89,398.47 L1430.89,400.77 L1433.90,403.07 L1436.90,405.36 L1439.91,407.66 L1442.91,409.95 L1445.92,412.23 L1448.92,414.52 L1451.93,416.79 L1454.93,419.07 L1457.94,421.34 L1460.94,423.60 L1463.94,425.86 L1466.95,428.12 L1469.95,430.37 L1472.96,432.62 L1475.96,434.86 L1478.97,437.10 L1481.97,439.33 L1484.98,441.55 L1487.98,443.77 L1490.99,445.99 L1493.99,448.19 L1497.00,450.39 L1500.00,452.59" stroke="#0a0a08" stroke-width="3.8" fill="none" stroke-linejoin="round" stroke-linecap="round"/>
<path d="M929.70,108.94 L932.72,109.67 L935.73,110.38 L938.75,111.08 L941.76,111.75 L944.78,112.40 L947.79,113.03 L950.81,113.65 L953.82,114.26 L956.84,114.85 L959.85,115.43 L962.87,116.00 L965.88,116.57 L968.90,117.13 L971.91,117.69 L974.93,118.24 L977.94,118.80 L980.96,119.35 L983.97,119.91 L986.99,120.47 L990.01,121.03 L993.02,121.60 L996.04,122.19 L999.05,122.78 L1002.07,123.38 L1005.08,124.00 L1008.10,124.63 L1011.11,125.29 L1014.13,125.95 L1017.14,126.64 L1020.16,127.35 L1023.17,128.09 L1026.19,128.84 L1029.20,129.62 L1032.22,130.41 L1035.23,131.23 L1038.25,132.07 L1041.26,132.93 L1044.28,133.82 L1047.29,134.73 L1050.31,135.65 L1053.33,136.60 L1056.34,137.57 L1059.36,138.57 L1062.37,139.58 L1065.39,140.62 L1068.40,141.67 L1071.42,142.75 L1074.43,143.85 L1077.45,144.98 L1080.46,146.12 L1083.48,147.29 L1086.49,148.47 L1089.51,149.68 L1092.52,150.91 L1095.54,152.16 L1098.55,153.44 L1101.57,154.73 L1104.58,156.05 L1107.60,157.39 L1110.62,158.76 L1113.63,160.15 L1116.65,161.56 L1119.66,163.01 L1122.68,164.48 L1125.69,165.97 L1128.71,167.50 L1131.72,169.06 L1134.74,170.65 L1137.75,172.27 L1140.77,173.92 L1143.78,175.61 L1146.80,177.33 L1149.81,179.08 L1152.83,180.87 L1155.84,182.70 L1158.86,184.57 L1161.87,186.47 L1164.89,188.41 L1167.91,190.39 L1170.92,192.42 L1173.94,194.48 L1176.95,196.59 L1179.97,198.74 L1182.98,200.92 L1186.00,203.14 L1189.01,205.38 L1192.03,207.64 L1195.04,209.91 L1198.06,212.19 L1201.07,214.47 L1204.09,216.75 L1207.10,219.02 L1210.12,221.28 L1213.13,223.53 L1216.15,225.79 L1219.16,228.04 L1222.18,230.29 L1225.19,232.54 L1228.21,234.80 L1231.23,237.06 L1234.24,239.32 L1237.26,241.60 L1240.27,243.87 L1243.29,246.16 L1246.30,248.45 L1249.32,250.75 L1252.33,253.06 L1255.35,255.37 L1258.36,257.69 L1261.38,260.02 L1264.39,262.36 L1267.41,264.70 L1270.42,267.06 L1273.44,269.42 L1276.45,271.79 L1279.47,274.17 L1282.48,276.56 L1285.50,278.96 L1288.52,281.37 L1291.53,283.79 L1294.55,286.22 L1297.56,288.67 L1300.58,291.12 L1303.59,293.58 L1306.61,296.06 L1309.62,298.55 L1312.64,301.04 L1315.65,303.56 L1318.67,306.08 L1321.68,308.61 L1324.70,311.16 L1327.71,313.73 L1330.73,316.30 L1333.74,318.89 L1336.76,321.49 L1339.77,324.11 L1342.79,326.74 L1345.81,329.39 L1348.82,332.05 L1351.84,334.72 L1354.85,337.41 L1357.87,340.12 L1360.88,342.83 L1363.90,345.56 L1366.91,348.31 L1369.93,351.06 L1372.94,353.83 L1375.96,356.60 L1378.97,359.39 L1381.99,362.18 L1385.00,364.98 L1388.02,367.79 L1391.03,370.60 L1394.05,373.42 L1397.06,376.24 L1400.08,379.07 L1403.09,381.90 L1406.11,384.74 L1409.13,387.57 L1412.14,390.41 L1415.16,393.25 L1418.17,396.08 L1421.19,398.92 L1424.20,401.75 L1427.22,404.59 L1430.23,407.41 L1433.25,410.24 L1436.26,413.06 L1439.28,415.87 L1442.29,418.68 L1445.31,421.48 L1448.32,424.27 L1451.34,427.05 L1454.35,429.83 L1457.37,432.59 L1460.38,435.35 L1463.40,438.09" stroke="#2c2a8e" stroke-width="3.3" fill="none" stroke-dasharray="17.6 17.4" stroke-linecap="round" stroke-dashoffset="33.90"/>
</g>
<g clip-path="url(#cBL)">
<path d="M249.70,562.40 L849.80,1037.68" stroke="#0a0a08" stroke-width="4.2" fill="none" stroke-dasharray="4 17.75" stroke-linecap="round" stroke-dashoffset="-7.11"/>
<path d="M196.00,684.01 L199.00,685.27 L202.01,686.52 L205.01,687.76 L208.02,688.99 L211.02,690.21 L214.03,691.43 L217.03,692.63 L220.04,693.82 L223.04,695.01 L226.05,696.19 L229.05,697.37 L232.06,698.53 L235.06,699.70 L238.06,700.86 L241.07,702.01 L244.07,703.16 L247.08,704.31 L250.08,705.46 L253.09,706.60 L256.09,707.75 L259.10,708.89 L262.10,710.03 L265.11,711.17 L268.11,712.32 L271.12,713.47 L274.12,714.61 L277.12,715.77 L280.13,716.92 L283.13,718.08 L286.14,719.24 L289.14,720.41 L292.15,721.59 L295.15,722.77 L298.16,723.95 L301.16,725.15 L304.17,726.35 L307.17,727.56 L310.18,728.78 L313.18,730.01 L316.18,731.25 L319.19,732.51 L322.19,733.77 L325.20,735.04 L328.20,736.33 L331.21,737.63 L334.21,738.94 L337.22,740.27 L340.22,741.62 L343.23,742.97 L346.23,744.35 L349.24,745.74 L352.24,747.15 L355.24,748.57 L358.25,750.02 L361.25,751.48 L364.26,752.96 L367.26,754.46 L370.27,755.99 L373.27,757.53 L376.28,759.09 L379.28,760.67 L382.29,762.28 L385.29,763.90 L388.29,765.54 L391.30,767.20 L394.30,768.89 L397.31,770.59 L400.31,772.31 L403.32,774.05 L406.32,775.81 L409.33,777.59 L412.33,779.40 L415.34,781.22 L418.34,783.06 L421.35,784.92 L424.35,786.80 L427.35,788.70 L430.36,790.62 L433.36,792.56 L436.37,794.52 L439.37,796.49 L442.38,798.49 L445.38,800.50 L448.39,802.53 L451.39,804.58 L454.40,806.64 L457.40,808.71 L460.41,810.80 L463.41,812.90 L466.41,815.02 L469.42,817.14 L472.42,819.28 L475.43,821.42 L478.43,823.58 L481.44,825.74 L484.44,827.91 L487.45,830.09 L490.45,832.27 L493.46,834.46 L496.46,836.66 L499.47,838.86 L502.47,841.06 L505.47,843.26 L508.48,845.47 L511.48,847.68 L514.49,849.90 L517.49,852.11 L520.50,854.33 L523.50,856.55 L526.51,858.77 L529.51,860.99 L532.52,863.21 L535.52,865.43 L538.53,867.65 L541.53,869.87 L544.53,872.09 L547.54,874.31 L550.54,876.53 L553.55,878.75 L556.55,880.97 L559.56,883.18 L562.56,885.39 L565.57,887.60 L568.57,889.81 L571.58,892.02 L574.58,894.22 L577.59,896.42 L580.59,898.61 L583.59,900.81 L586.60,903.00 L589.60,905.19 L592.61,907.38 L595.61,909.57 L598.62,911.76 L601.62,913.94 L604.63,916.12 L607.63,918.30 L610.64,920.48 L613.64,922.66 L616.65,924.83 L619.65,927.01 L622.65,929.18 L625.66,931.35 L628.66,933.52 L631.67,935.70 L634.67,937.86 L637.68,940.03 L640.68,942.20 L643.69,944.37 L646.69,946.54 L649.70,948.70 L652.70,950.87 L655.71,953.03 L658.71,955.20 L661.71,957.36 L664.72,959.52 L667.72,961.69 L670.73,963.85 L673.73,966.01 L676.74,968.17 L679.74,970.34 L682.75,972.50 L685.75,974.66 L688.76,976.82 L691.76,978.98 L694.76,981.14 L697.77,983.30 L700.77,985.46 L703.78,987.62 L706.78,989.77 L709.79,991.93 L712.79,994.09 L715.80,996.25 L718.80,998.41 L721.81,1000.57 L724.81,1002.73 L727.82,1004.88 L730.82,1007.04 L733.82,1009.20 L736.83,1011.36 L739.83,1013.52 L742.84,1015.69 L745.84,1017.85 L748.85,1020.01 L751.85,1022.18 L754.86,1024.34 L757.86,1026.51 L760.87,1028.68 L763.87,1030.85 L766.88,1033.02 L769.88,1035.19 L772.88,1037.37 L775.89,1039.55 L778.89,1041.72 L781.90,1043.91 L784.90,1046.09 L787.91,1048.27 L790.91,1050.46 L793.92,1052.65 L796.92,1054.85 L799.93,1057.04 L802.93,1059.24 L805.94,1061.44 L808.94,1063.64 L811.94,1065.85 L814.95,1068.06 L817.95,1070.28 L820.96,1072.49 L823.96,1074.71 L826.97,1076.94 L829.97,1079.17 L832.98,1081.40 L835.98,1083.63 L838.99,1085.87 L841.99,1088.12 L845.00,1090.37 L848.00,1092.62" stroke="#6a0e10" stroke-width="3.1" fill="none" stroke-dasharray="24.7 12.1 2.8 12.8" stroke-linecap="round" stroke-dashoffset="51.58"/>
<path d="M196.00,661.59 L199.00,661.97 L202.01,662.38 L205.01,662.83 L208.02,663.30 L211.02,663.81 L214.03,664.35 L217.03,664.91 L220.04,665.50 L223.04,666.11 L226.05,666.75 L229.05,667.41 L232.06,668.09 L235.06,668.80 L238.06,669.52 L241.07,670.26 L244.07,671.01 L247.08,671.78 L250.08,672.57 L253.09,673.37 L256.09,674.18 L259.10,675.00 L262.10,675.83 L265.11,676.67 L268.11,677.51 L271.12,678.36 L274.12,679.22 L277.12,680.07 L280.13,680.93 L283.13,681.79 L286.14,682.66 L289.14,683.52 L292.15,684.39 L295.15,685.26 L298.16,686.13 L301.16,687.02 L304.17,687.90 L307.17,688.80 L310.18,689.70 L313.18,690.61 L316.18,691.52 L319.19,692.45 L322.19,693.39 L325.20,694.34 L328.20,695.31 L331.21,696.28 L334.21,697.27 L337.22,698.28 L340.22,699.30 L343.23,700.33 L346.23,701.39 L349.24,702.46 L352.24,703.55 L355.24,704.65 L358.25,705.78 L361.25,706.93 L364.26,708.10 L367.26,709.30 L370.27,710.51 L373.27,711.75 L376.28,713.01 L379.28,714.30 L382.29,715.60 L385.29,716.93 L388.29,718.28 L391.30,719.65 L394.30,721.04 L397.31,722.45 L400.31,723.88 L403.32,725.34 L406.32,726.81 L409.33,728.31 L412.33,729.82 L415.34,731.36 L418.34,732.92 L421.35,734.49 L424.35,736.09 L427.35,737.70 L430.36,739.34 L433.36,740.99 L436.37,742.67 L439.37,744.36 L442.38,746.07 L445.38,747.80 L448.39,749.55 L451.39,751.32 L454.40,753.11 L457.40,754.91 L460.41,756.74 L463.41,758.58 L466.41,760.44 L469.42,762.31 L472.42,764.21 L475.43,766.12 L478.43,768.04 L481.44,769.99 L484.44,771.95 L487.45,773.93 L490.45,775.93 L493.46,777.94 L496.46,779.96 L499.47,782.01 L502.47,784.07 L505.47,786.14 L508.48,788.24 L511.48,790.34 L514.49,792.47 L517.49,794.60 L520.50,796.76 L523.50,798.92 L526.51,801.11 L529.51,803.30 L532.52,805.52 L535.52,807.74 L538.53,809.98 L541.53,812.24 L544.53,814.50 L547.54,816.78 L550.54,819.07 L553.55,821.38 L556.55,823.69 L559.56,826.00 L562.56,828.33 L565.57,830.66 L568.57,832.99 L571.58,835.33 L574.58,837.67 L577.59,840.01 L580.59,842.35 L583.59,844.70 L586.60,847.03 L589.60,849.37 L592.61,851.70 L595.61,854.02 L598.62,856.34 L601.62,858.65 L604.63,860.95 L607.63,863.25 L610.64,865.53 L613.64,867.81 L616.65,870.07 L619.65,872.33 L622.65,874.59 L625.66,876.84 L628.66,879.08 L631.67,881.32 L634.67,883.55 L637.68,885.78 L640.68,888.01 L643.69,890.23 L646.69,892.45 L649.70,894.67 L652.70,896.89 L655.71,899.11 L658.71,901.32 L661.71,903.54 L664.72,905.76 L667.72,907.98 L670.73,910.20 L673.73,912.43 L676.74,914.66 L679.74,916.89 L682.75,919.12 L685.75,921.35 L688.76,923.59 L691.76,925.83 L694.76,928.07 L697.77,930.32 L700.77,932.57 L703.78,934.82 L706.78,937.08 L709.79,939.33 L712.79,941.59 L715.80,943.86 L718.80,946.12 L721.81,948.39 L724.81,950.66 L727.82,952.94 L730.82,955.21 L733.82,957.49 L736.83,959.76 L739.83,962.04 L742.84,964.33 L745.84,966.61 L748.85,968.90 L751.85,971.19 L754.86,973.48 L757.86,975.78 L760.87,978.08 L763.87,980.38 L766.88,982.69 L769.88,985.01 L772.88,987.33 L775.89,989.65 L778.89,991.97 L781.90,994.30 L784.90,996.63 L787.91,998.97 L790.91,1001.31 L793.92,1003.64 L796.92,1005.99 L799.93,1008.33 L802.93,1010.67 L805.94,1013.02 L808.94,1015.37 L811.94,1017.71 L814.95,1020.06 L817.95,1022.41 L820.96,1024.76 L823.96,1027.10 L826.97,1029.45 L829.97,1031.79 L832.98,1034.14 L835.98,1036.48 L838.99,1038.82 L841.99,1041.15 L845.00,1043.49 L848.00,1045.82" stroke="#d4701e" stroke-width="3.8" fill="none" stroke-dasharray="29.8 9.3 2.8 7.5 2.8 9" stroke-linecap="round" stroke-dashoffset="61.16"/>
<path d="M196.00,647.88 L199.00,648.53 L202.01,649.18 L205.01,649.84 L208.02,650.52 L211.02,651.20 L214.03,651.88 L217.03,652.58 L220.04,653.29 L223.04,654.00 L226.05,654.72 L229.05,655.46 L232.06,656.20 L235.06,656.94 L238.06,657.70 L241.07,658.47 L244.07,659.24 L247.08,660.02 L250.08,660.82 L253.09,661.62 L256.09,662.43 L259.10,663.24 L262.10,664.07 L265.11,664.91 L268.11,665.75 L271.12,666.60 L274.12,667.46 L277.12,668.33 L280.13,669.21 L283.13,670.10 L286.14,671.00 L289.14,671.90 L292.15,672.81 L295.15,673.74 L298.16,674.67 L301.16,675.61 L304.17,676.56 L307.17,677.52 L310.18,678.48 L313.18,679.46 L316.18,680.44 L319.19,681.44 L322.19,682.45 L325.20,683.47 L328.20,684.50 L331.21,685.54 L334.21,686.60 L337.22,687.67 L340.22,688.76 L343.23,689.86 L346.23,690.98 L349.24,692.11 L352.24,693.27 L355.24,694.44 L358.25,695.63 L361.25,696.83 L364.26,698.06 L367.26,699.31 L370.27,700.58 L373.27,701.88 L376.28,703.19 L379.28,704.53 L382.29,705.89 L385.29,707.28 L388.29,708.69 L391.30,710.12 L394.30,711.59 L397.31,713.08 L400.31,714.59 L403.32,716.13 L406.32,717.70 L409.33,719.29 L412.33,720.90 L415.34,722.54 L418.34,724.20 L421.35,725.88 L424.35,727.58 L427.35,729.31 L430.36,731.05 L433.36,732.82 L436.37,734.60 L439.37,736.41 L442.38,738.23 L445.38,740.07 L448.39,741.93 L451.39,743.80 L454.40,745.69 L457.40,747.60 L460.41,749.52 L463.41,751.45 L466.41,753.40 L469.42,755.37 L472.42,757.34 L475.43,759.33 L478.43,761.33 L481.44,763.34 L484.44,765.36 L487.45,767.40 L490.45,769.44 L493.46,771.49 L496.46,773.55 L499.47,775.62 L502.47,777.70 L505.47,779.78 L508.48,781.87 L511.48,783.97 L514.49,786.07 L517.49,788.17 L520.50,790.28 L523.50,792.40 L526.51,794.51 L529.51,796.63 L532.52,798.75 L535.52,800.88 L538.53,803.00 L541.53,805.13 L544.53,807.25 L547.54,809.38 L550.54,811.51 L553.55,813.64 L556.55,815.77 L559.56,817.90 L562.56,820.03 L565.57,822.17 L568.57,824.31 L571.58,826.46 L574.58,828.60 L577.59,830.76 L580.59,832.91 L583.59,835.07 L586.60,837.24 L589.60,839.41 L592.61,841.59 L595.61,843.77 L598.62,845.96 L601.62,848.15 L604.63,850.36 L607.63,852.57 L610.64,854.78 L613.64,857.01 L616.65,859.24 L619.65,861.48 L622.65,863.73 L625.66,865.99 L628.66,868.26 L631.67,870.53 L634.67,872.81 L637.68,875.09 L640.68,877.39 L643.69,879.69 L646.69,882.00 L649.70,884.31 L652.70,886.63 L655.71,888.96 L658.71,891.29 L661.71,893.62 L664.72,895.97 L667.72,898.31 L670.73,900.67 L673.73,903.03 L676.74,905.39 L679.74,907.75 L682.75,910.12 L685.75,912.50 L688.76,914.87 L691.76,917.26 L694.76,919.64 L697.77,922.02 L700.77,924.41 L703.78,926.80 L706.78,929.20 L709.79,931.59 L712.79,933.98 L715.80,936.38 L718.80,938.78 L721.81,941.17 L724.81,943.57 L727.82,945.97 L730.82,948.37 L733.82,950.76 L736.83,953.16 L739.83,955.55 L742.84,957.95 L745.84,960.34 L748.85,962.73 L751.85,965.12 L754.86,967.50 L757.86,969.89 L760.87,972.27 L763.87,974.64 L766.88,977.02 L769.88,979.39 L772.88,981.75 L775.89,984.11 L778.89,986.47 L781.90,988.82 L784.90,991.17 L787.91,993.51 L790.91,995.85 L793.92,998.18 L796.92,1000.50 L799.93,1002.82 L802.93,1005.13 L805.94,1007.44 L808.94,1009.73 L811.94,1012.02 L814.95,1014.31 L817.95,1016.58 L820.96,1018.85 L823.96,1021.10 L826.97,1023.35 L829.97,1025.59 L832.98,1027.82 L835.98,1030.05 L838.99,1032.26 L841.99,1034.46 L845.00,1036.65 L848.00,1038.83" stroke="#0a0a08" stroke-width="3.8" fill="none" stroke-linejoin="round" stroke-linecap="round"/>
<path d="M256.60,660.63 L259.60,660.80 L262.60,660.96 L265.61,661.12 L268.61,661.27 L271.61,661.42 L274.61,661.58 L277.62,661.73 L280.62,661.90 L283.62,662.07 L286.62,662.25 L289.63,662.45 L292.63,662.66 L295.63,662.89 L298.63,663.14 L301.64,663.42 L304.64,663.71 L307.64,664.04 L310.64,664.39 L313.64,664.78 L316.65,665.20 L319.65,665.66 L322.65,666.16 L325.65,666.70 L328.66,667.28 L331.66,667.91 L334.66,668.59 L337.66,669.32 L340.67,670.10 L343.67,670.94 L346.67,671.83 L349.67,672.78 L352.68,673.79 L355.68,674.84 L358.68,675.95 L361.68,677.10 L364.69,678.30 L367.69,679.53 L370.69,680.81 L373.69,682.13 L376.69,683.48 L379.70,684.86 L382.70,686.27 L385.70,687.71 L388.70,689.17 L391.71,690.66 L394.71,692.17 L397.71,693.70 L400.71,695.24 L403.72,696.80 L406.72,698.37 L409.72,699.95 L412.72,701.53 L415.73,703.13 L418.73,704.74 L421.73,706.37 L424.73,708.01 L427.73,709.66 L430.74,711.34 L433.74,713.03 L436.74,714.74 L439.74,716.47 L442.75,718.22 L445.75,720.00 L448.75,721.80 L451.75,723.63 L454.76,725.48 L457.76,727.36 L460.76,729.27 L463.76,731.21 L466.77,733.19 L469.77,735.19 L472.77,737.23 L475.77,739.31 L478.78,741.42 L481.78,743.57 L484.78,745.76 L487.78,747.98 L490.78,750.24 L493.79,752.53 L496.79,754.84 L499.79,757.18 L502.79,759.54 L505.80,761.92 L508.80,764.31 L511.80,766.71 L514.80,769.12 L517.81,771.54 L520.81,773.96 L523.81,776.38 L526.81,778.80 L529.82,781.21 L532.82,783.61 L535.82,786.00 L538.82,788.38 L541.82,790.74 L544.83,793.09 L547.83,795.43 L550.83,797.75 L553.83,800.07 L556.84,802.38 L559.84,804.68 L562.84,806.97 L565.84,809.26 L568.85,811.55 L571.85,813.83 L574.85,816.11 L577.85,818.40 L580.86,820.68 L583.86,822.96 L586.86,825.25 L589.86,827.54 L592.87,829.84 L595.87,832.14 L598.87,834.46 L601.87,836.78 L604.87,839.11 L607.88,841.45 L610.88,843.80 L613.88,846.17 L616.88,848.54 L619.89,850.93 L622.89,853.32 L625.89,855.73 L628.89,858.15 L631.90,860.58 L634.90,863.02 L637.90,865.47 L640.90,867.93 L643.91,870.39 L646.91,872.87 L649.91,875.36 L652.91,877.85 L655.91,880.36 L658.92,882.87 L661.92,885.39 L664.92,887.92 L667.92,890.46 L670.93,893.01 L673.93,895.56 L676.93,898.12 L679.93,900.69 L682.94,903.26 L685.94,905.84 L688.94,908.43 L691.94,911.03 L694.95,913.63 L697.95,916.23 L700.95,918.84 L703.95,921.46 L706.96,924.08 L709.96,926.71 L712.96,929.34 L715.96,931.98 L718.96,934.62 L721.97,937.27 L724.97,939.93 L727.97,942.61 L730.97,945.30 L733.98,948.00 L736.98,950.72 L739.98,953.47 L742.98,956.24 L745.99,959.03 L748.99,961.84 L751.99,964.69 L754.99,967.57 L758.00,970.48 L761.00,973.43 L764.00,976.41" stroke="#2c2a8e" stroke-width="2.4" fill="none" stroke-dasharray="17.6 17.4" stroke-linecap="round" stroke-dashoffset="34.84"/>
<rect x="373.40" y="688.40" width="21.2" height="21.2" fill="none" stroke="#0a0a08" stroke-width="2.8"/>
<rect x="445.30" y="727.90" width="21.2" height="21.2" fill="none" stroke="#0a0a08" stroke-width="2.8"/>
<rect x="496.00" y="753.20" width="21.2" height="21.2" fill="none" stroke="#0a0a08" stroke-width="2.8"/>
<rect x="567.60" y="792.40" width="21.2" height="21.2" fill="none" stroke="#0a0a08" stroke-width="2.8"/>
<rect x="618.90" y="832.70" width="21.2" height="21.2" fill="none" stroke="#0a0a08" stroke-width="2.8"/>
<rect x="658.00" y="864.00" width="21.2" height="21.2" fill="none" stroke="#0a0a08" stroke-width="2.8"/>
<rect x="690.40" y="894.30" width="21.2" height="21.2" fill="none" stroke="#0a0a08" stroke-width="2.8"/>
<rect x="716.20" y="924.80" width="21.2" height="21.2" fill="none" stroke="#0a0a08" stroke-width="2.8"/>
<rect x="741.20" y="958.40" width="21.2" height="21.2" fill="none" stroke="#0a0a08" stroke-width="2.8"/>
<rect x="780.80" y="996.70" width="21.2" height="21.2" fill="none" stroke="#0a0a08" stroke-width="2.8"/>
</g>
<g clip-path="url(#cBR)">
<path d="M871.21,562.40 L1502.00,1064.51" stroke="#0a0a08" stroke-width="4.2" fill="none" stroke-dasharray="4 17.75" stroke-linecap="round" stroke-dashoffset="-4.84"/>
<path d="M848.00,687.53 L851.00,688.58 L854.01,689.63 L857.01,690.69 L860.02,691.75 L863.02,692.82 L866.03,693.90 L869.03,694.98 L872.04,696.07 L875.04,697.17 L878.05,698.27 L881.05,699.38 L884.06,700.49 L887.06,701.62 L890.06,702.75 L893.07,703.89 L896.07,705.04 L899.08,706.20 L902.08,707.37 L905.09,708.54 L908.09,709.73 L911.10,710.92 L914.10,712.13 L917.11,713.34 L920.11,714.57 L923.12,715.81 L926.12,717.06 L929.12,718.32 L932.13,719.59 L935.13,720.87 L938.14,722.17 L941.14,723.47 L944.15,724.79 L947.15,726.13 L950.16,727.47 L953.16,728.83 L956.17,730.20 L959.17,731.59 L962.18,732.99 L965.18,734.41 L968.18,735.84 L971.19,737.28 L974.19,738.74 L977.20,740.22 L980.20,741.71 L983.21,743.22 L986.21,744.74 L989.22,746.28 L992.22,747.84 L995.23,749.41 L998.23,751.00 L1001.24,752.61 L1004.24,754.24 L1007.24,755.88 L1010.25,757.55 L1013.25,759.23 L1016.26,760.93 L1019.26,762.65 L1022.27,764.38 L1025.27,766.14 L1028.28,767.91 L1031.28,769.70 L1034.29,771.51 L1037.29,773.33 L1040.29,775.17 L1043.30,777.03 L1046.30,778.90 L1049.31,780.78 L1052.31,782.68 L1055.32,784.59 L1058.32,786.52 L1061.33,788.46 L1064.33,790.41 L1067.34,792.38 L1070.34,794.35 L1073.35,796.34 L1076.35,798.34 L1079.35,800.35 L1082.36,802.37 L1085.36,804.40 L1088.37,806.44 L1091.37,808.49 L1094.38,810.55 L1097.38,812.61 L1100.39,814.69 L1103.39,816.77 L1106.40,818.86 L1109.40,820.95 L1112.41,823.05 L1115.41,825.16 L1118.41,827.27 L1121.42,829.38 L1124.42,831.51 L1127.43,833.63 L1130.43,835.76 L1133.44,837.89 L1136.44,840.03 L1139.45,842.16 L1142.45,844.30 L1145.46,846.44 L1148.46,848.58 L1151.47,850.73 L1154.47,852.87 L1157.47,855.01 L1160.48,857.16 L1163.48,859.30 L1166.49,861.44 L1169.49,863.58 L1172.50,865.73 L1175.50,867.87 L1178.51,870.01 L1181.51,872.15 L1184.52,874.29 L1187.52,876.44 L1190.53,878.58 L1193.53,880.72 L1196.53,882.86 L1199.54,885.00 L1202.54,887.15 L1205.55,889.29 L1208.55,891.43 L1211.56,893.57 L1214.56,895.72 L1217.57,897.86 L1220.57,900.01 L1223.58,902.15 L1226.58,904.29 L1229.59,906.44 L1232.59,908.58 L1235.59,910.73 L1238.60,912.88 L1241.60,915.02 L1244.61,917.17 L1247.61,919.32 L1250.62,921.47 L1253.62,923.62 L1256.63,925.77 L1259.63,927.92 L1262.64,930.07 L1265.64,932.22 L1268.65,934.37 L1271.65,936.53 L1274.65,938.68 L1277.66,940.84 L1280.66,942.99 L1283.67,945.15 L1286.67,947.31 L1289.68,949.47 L1292.68,951.63 L1295.69,953.79 L1298.69,955.95 L1301.70,958.12 L1304.70,960.28 L1307.71,962.45 L1310.71,964.62 L1313.71,966.78 L1316.72,968.95 L1319.72,971.12 L1322.73,973.30 L1325.73,975.47 L1328.74,977.65 L1331.74,979.82 L1334.75,982.00 L1337.75,984.18 L1340.76,986.36 L1343.76,988.54 L1346.76,990.73 L1349.77,992.91 L1352.77,995.10 L1355.78,997.29 L1358.78,999.48 L1361.79,1001.67 L1364.79,1003.86 L1367.80,1006.06 L1370.80,1008.26 L1373.81,1010.46 L1376.81,1012.66 L1379.82,1014.86 L1382.82,1017.06 L1385.82,1019.27 L1388.83,1021.48 L1391.83,1023.69 L1394.84,1025.90 L1397.84,1028.12 L1400.85,1030.33 L1403.85,1032.55 L1406.86,1034.77 L1409.86,1037.00 L1412.87,1039.22 L1415.87,1041.45 L1418.88,1043.68 L1421.88,1045.91 L1424.88,1048.15 L1427.89,1050.39 L1430.89,1052.62 L1433.90,1054.87 L1436.90,1057.11 L1439.91,1059.36 L1442.91,1061.61 L1445.92,1063.86 L1448.92,1066.11 L1451.93,1068.37 L1454.93,1070.63 L1457.94,1072.89 L1460.94,1075.15 L1463.94,1077.42 L1466.95,1079.69 L1469.95,1081.96 L1472.96,1084.24 L1475.96,1086.52 L1478.97,1088.80 L1481.97,1091.08 L1484.98,1093.37 L1487.98,1095.66 L1490.99,1097.95 L1493.99,1100.25 L1497.00,1102.55 L1500.00,1104.85" stroke="#6a0e10" stroke-width="3.1" fill="none" stroke-dasharray="24.7 12.1 2.8 12.8" stroke-linecap="round" stroke-dashoffset="0.49"/>
<path d="M848.00,654.68 L851.00,655.49 L854.01,656.30 L857.01,657.12 L860.02,657.94 L863.02,658.77 L866.03,659.60 L869.03,660.44 L872.04,661.29 L875.04,662.15 L878.05,663.01 L881.05,663.87 L884.06,664.75 L887.06,665.63 L890.06,666.53 L893.07,667.43 L896.07,668.34 L899.08,669.25 L902.08,670.18 L905.09,671.12 L908.09,672.06 L911.10,673.02 L914.10,673.99 L917.11,674.97 L920.11,675.96 L923.12,676.96 L926.12,677.97 L929.12,678.99 L932.13,680.02 L935.13,681.07 L938.14,682.13 L941.14,683.20 L944.15,684.29 L947.15,685.39 L950.16,686.50 L953.16,687.63 L956.17,688.77 L959.17,689.93 L962.18,691.10 L965.18,692.28 L968.18,693.48 L971.19,694.70 L974.19,695.93 L977.20,697.18 L980.20,698.45 L983.21,699.73 L986.21,701.03 L989.22,702.34 L992.22,703.68 L995.23,705.03 L998.23,706.40 L1001.24,707.78 L1004.24,709.19 L1007.24,710.62 L1010.25,712.06 L1013.25,713.52 L1016.26,715.01 L1019.26,716.51 L1022.27,718.03 L1025.27,719.58 L1028.28,721.14 L1031.28,722.73 L1034.29,724.34 L1037.29,725.96 L1040.29,727.61 L1043.30,729.28 L1046.30,730.98 L1049.31,732.69 L1052.31,734.43 L1055.32,736.19 L1058.32,737.97 L1061.33,739.77 L1064.33,741.60 L1067.34,743.45 L1070.34,745.33 L1073.35,747.22 L1076.35,749.14 L1079.35,751.09 L1082.36,753.06 L1085.36,755.05 L1088.37,757.06 L1091.37,759.10 L1094.38,761.16 L1097.38,763.23 L1100.39,765.33 L1103.39,767.45 L1106.40,769.58 L1109.40,771.73 L1112.41,773.90 L1115.41,776.08 L1118.41,778.28 L1121.42,780.50 L1124.42,782.72 L1127.43,784.97 L1130.43,787.22 L1133.44,789.49 L1136.44,791.76 L1139.45,794.05 L1142.45,796.35 L1145.46,798.65 L1148.46,800.97 L1151.47,803.29 L1154.47,805.62 L1157.47,807.96 L1160.48,810.30 L1163.48,812.64 L1166.49,814.99 L1169.49,817.35 L1172.50,819.71 L1175.50,822.07 L1178.51,824.44 L1181.51,826.81 L1184.52,829.18 L1187.52,831.56 L1190.53,833.94 L1193.53,836.32 L1196.53,838.71 L1199.54,841.10 L1202.54,843.49 L1205.55,845.89 L1208.55,848.28 L1211.56,850.68 L1214.56,853.09 L1217.57,855.49 L1220.57,857.90 L1223.58,860.31 L1226.58,862.72 L1229.59,865.13 L1232.59,867.55 L1235.59,869.96 L1238.60,872.38 L1241.60,874.80 L1244.61,877.22 L1247.61,879.64 L1250.62,882.06 L1253.62,884.48 L1256.63,886.91 L1259.63,889.33 L1262.64,891.76 L1265.64,894.18 L1268.65,896.60 L1271.65,899.03 L1274.65,901.45 L1277.66,903.88 L1280.66,906.30 L1283.67,908.72 L1286.67,911.15 L1289.68,913.57 L1292.68,915.99 L1295.69,918.41 L1298.69,920.83 L1301.70,923.25 L1304.70,925.67 L1307.71,928.08 L1310.71,930.50 L1313.71,932.91 L1316.72,935.32 L1319.72,937.73 L1322.73,940.13 L1325.73,942.54 L1328.74,944.94 L1331.74,947.34 L1334.75,949.74 L1337.75,952.13 L1340.76,954.52 L1343.76,956.91 L1346.76,959.30 L1349.77,961.68 L1352.77,964.06 L1355.78,966.43 L1358.78,968.81 L1361.79,971.18 L1364.79,973.54 L1367.80,975.91 L1370.80,978.27 L1373.81,980.62 L1376.81,982.98 L1379.82,985.33 L1382.82,987.68 L1385.82,990.02 L1388.83,992.36 L1391.83,994.70 L1394.84,997.04 L1397.84,999.37 L1400.85,1001.71 L1403.85,1004.03 L1406.86,1006.36 L1409.86,1008.68 L1412.87,1011.00 L1415.87,1013.32 L1418.88,1015.63 L1421.88,1017.95 L1424.88,1020.26 L1427.89,1022.56 L1430.89,1024.87 L1433.90,1027.17 L1436.90,1029.47 L1439.91,1031.77 L1442.91,1034.06 L1445.92,1036.36 L1448.92,1038.65 L1451.93,1040.93 L1454.93,1043.22 L1457.94,1045.50 L1460.94,1047.79 L1463.94,1050.06 L1466.95,1052.34 L1469.95,1054.62 L1472.96,1056.89 L1475.96,1059.16 L1478.97,1061.43 L1481.97,1063.70 L1484.98,1065.96 L1487.98,1068.23 L1490.99,1070.49 L1493.99,1072.75 L1497.00,1075.00 L1500.00,1077.26" stroke="#d4701e" stroke-width="3.8" fill="none" stroke-dasharray="29.8 9.3 2.8 7.5 2.8 9" stroke-linecap="round" stroke-dashoffset="0.17"/>
<path d="M848.00,644.36 L851.00,644.94 L854.01,645.54 L857.01,646.16 L860.02,646.81 L863.02,647.47 L866.03,648.16 L869.03,648.87 L872.04,649.60 L875.04,650.36 L878.05,651.13 L881.05,651.93 L884.06,652.74 L887.06,653.58 L890.06,654.44 L893.07,655.33 L896.07,656.23 L899.08,657.15 L902.08,658.10 L905.09,659.06 L908.09,660.05 L911.10,661.06 L914.10,662.09 L917.11,663.14 L920.11,664.21 L923.12,665.30 L926.12,666.42 L929.12,667.55 L932.13,668.71 L935.13,669.88 L938.14,671.08 L941.14,672.29 L944.15,673.53 L947.15,674.78 L950.16,676.05 L953.16,677.35 L956.17,678.65 L959.17,679.98 L962.18,681.32 L965.18,682.68 L968.18,684.06 L971.19,685.45 L974.19,686.86 L977.20,688.28 L980.20,689.71 L983.21,691.16 L986.21,692.62 L989.22,694.10 L992.22,695.59 L995.23,697.08 L998.23,698.60 L1001.24,700.12 L1004.24,701.65 L1007.24,703.20 L1010.25,704.75 L1013.25,706.31 L1016.26,707.88 L1019.26,709.46 L1022.27,711.05 L1025.27,712.65 L1028.28,714.25 L1031.28,715.86 L1034.29,717.48 L1037.29,719.10 L1040.29,720.73 L1043.30,722.36 L1046.30,724.00 L1049.31,725.63 L1052.31,727.28 L1055.32,728.93 L1058.32,730.58 L1061.33,732.26 L1064.33,733.94 L1067.34,735.65 L1070.34,737.39 L1073.35,739.15 L1076.35,740.95 L1079.35,742.78 L1082.36,744.64 L1085.36,746.55 L1088.37,748.48 L1091.37,750.45 L1094.38,752.45 L1097.38,754.48 L1100.39,756.53 L1103.39,758.61 L1106.40,760.71 L1109.40,762.84 L1112.41,764.98 L1115.41,767.14 L1118.41,769.32 L1121.42,771.51 L1124.42,773.71 L1127.43,775.93 L1130.43,778.15 L1133.44,780.38 L1136.44,782.62 L1139.45,784.86 L1142.45,787.10 L1145.46,789.35 L1148.46,791.61 L1151.47,793.88 L1154.47,796.16 L1157.47,798.44 L1160.48,800.73 L1163.48,803.04 L1166.49,805.35 L1169.49,807.67 L1172.50,810.00 L1175.50,812.34 L1178.51,814.69 L1181.51,817.05 L1184.52,819.41 L1187.52,821.78 L1190.53,824.15 L1193.53,826.53 L1196.53,828.92 L1199.54,831.31 L1202.54,833.70 L1205.55,836.10 L1208.55,838.50 L1211.56,840.90 L1214.56,843.30 L1217.57,845.71 L1220.57,848.11 L1223.58,850.52 L1226.58,852.92 L1229.59,855.32 L1232.59,857.72 L1235.59,860.12 L1238.60,862.52 L1241.60,864.91 L1244.61,867.30 L1247.61,869.69 L1250.62,872.07 L1253.62,874.45 L1256.63,876.82 L1259.63,879.18 L1262.64,881.55 L1265.64,883.91 L1268.65,886.26 L1271.65,888.62 L1274.65,890.97 L1277.66,893.32 L1280.66,895.66 L1283.67,898.01 L1286.67,900.35 L1289.68,902.69 L1292.68,905.03 L1295.69,907.37 L1298.69,909.71 L1301.70,912.04 L1304.70,914.38 L1307.71,916.72 L1310.71,919.06 L1313.71,921.40 L1316.72,923.74 L1319.72,926.08 L1322.73,928.43 L1325.73,930.78 L1328.74,933.12 L1331.74,935.48 L1334.75,937.83 L1337.75,940.19 L1340.76,942.55 L1343.76,944.91 L1346.76,947.28 L1349.77,949.65 L1352.77,952.03 L1355.78,954.41 L1358.78,956.80 L1361.79,959.19 L1364.79,961.58 L1367.80,963.97 L1370.80,966.37 L1373.81,968.77 L1376.81,971.17 L1379.82,973.57 L1382.82,975.98 L1385.82,978.38 L1388.83,980.78 L1391.83,983.19 L1394.84,985.59 L1397.84,987.99 L1400.85,990.39 L1403.85,992.79 L1406.86,995.19 L1409.86,997.58 L1412.87,999.97 L1415.87,1002.36 L1418.88,1004.74 L1421.88,1007.12 L1424.88,1009.50 L1427.89,1011.87 L1430.89,1014.24 L1433.90,1016.60 L1436.90,1018.95 L1439.91,1021.30 L1442.91,1023.64 L1445.92,1025.98 L1448.92,1028.31 L1451.93,1030.63 L1454.93,1032.94 L1457.94,1035.24 L1460.94,1037.54 L1463.94,1039.82 L1466.95,1042.10 L1469.95,1044.36 L1472.96,1046.62 L1475.96,1048.86 L1478.97,1051.10 L1481.97,1053.32 L1484.98,1055.53 L1487.98,1057.73 L1490.99,1059.91 L1493.99,1062.09 L1497.00,1064.25 L1500.00,1066.39" stroke="#0a0a08" stroke-width="3.8" fill="none" stroke-linejoin="round" stroke-linecap="round"/>
<path d="M848.00,620.46 L851.02,620.93 L854.03,621.43 L857.05,621.97 L860.06,622.52 L863.08,623.11 L866.09,623.72 L869.11,624.36 L872.13,625.03 L875.14,625.72 L878.16,626.43 L881.17,627.17 L884.19,627.93 L887.20,628.71 L890.22,629.52 L893.24,630.35 L896.25,631.19 L899.27,632.06 L902.28,632.95 L905.30,633.85 L908.31,634.78 L911.33,635.72 L914.35,636.68 L917.36,637.66 L920.38,638.65 L923.39,639.66 L926.41,640.68 L929.42,641.72 L932.44,642.77 L935.46,643.83 L938.47,644.91 L941.49,646.00 L944.50,647.11 L947.52,648.23 L950.53,649.37 L953.55,650.52 L956.57,651.70 L959.58,652.89 L962.60,654.09 L965.61,655.32 L968.63,656.57 L971.64,657.83 L974.66,659.12 L977.68,660.43 L980.69,661.76 L983.71,663.11 L986.72,664.49 L989.74,665.88 L992.76,667.31 L995.77,668.75 L998.79,670.23 L1001.80,671.73 L1004.82,673.25 L1007.83,674.81 L1010.85,676.39 L1013.87,677.99 L1016.88,679.63 L1019.90,681.29 L1022.91,682.98 L1025.93,684.70 L1028.94,686.44 L1031.96,688.21 L1034.98,690.00 L1037.99,691.82 L1041.01,693.65 L1044.02,695.51 L1047.04,697.40 L1050.05,699.30 L1053.07,701.23 L1056.09,703.17 L1059.10,705.13 L1062.12,707.12 L1065.13,709.12 L1068.15,711.14 L1071.16,713.18 L1074.18,715.23 L1077.20,717.30 L1080.21,719.38 L1083.23,721.48 L1086.24,723.60 L1089.26,725.73 L1092.27,727.87 L1095.29,730.02 L1098.31,732.19 L1101.32,734.36 L1104.34,736.55 L1107.35,738.75 L1110.37,740.96 L1113.38,743.17 L1116.40,745.40 L1119.42,747.63 L1122.43,749.87 L1125.45,752.11 L1128.46,754.37 L1131.48,756.62 L1134.49,758.88 L1137.51,761.15 L1140.53,763.42 L1143.54,765.69 L1146.56,767.97 L1149.57,770.25 L1152.59,772.53 L1155.60,774.81 L1158.62,777.10 L1161.64,779.38 L1164.65,781.67 L1167.67,783.97 L1170.68,786.26 L1173.70,788.56 L1176.71,790.86 L1179.73,793.16 L1182.75,795.46 L1185.76,797.76 L1188.78,800.07 L1191.79,802.37 L1194.81,804.68 L1197.82,806.99 L1200.84,809.31 L1203.86,811.62 L1206.87,813.93 L1209.89,816.25 L1212.90,818.57 L1215.92,820.88 L1218.93,823.20 L1221.95,825.53 L1224.97,827.86 L1227.98,830.19 L1231.00,832.53 L1234.01,834.87 L1237.03,837.22 L1240.04,839.58 L1243.06,841.95 L1246.08,844.33 L1249.09,846.72 L1252.11,849.12 L1255.12,851.53 L1258.14,853.95 L1261.16,856.39 L1264.17,858.84 L1267.19,861.31 L1270.20,863.79 L1273.22,866.29 L1276.23,868.80 L1279.25,871.32 L1282.27,873.86 L1285.28,876.42 L1288.30,878.99 L1291.31,881.57 L1294.33,884.16 L1297.34,886.76 L1300.36,889.38 L1303.38,892.01 L1306.39,894.65 L1309.41,897.30 L1312.42,899.97 L1315.44,902.64 L1318.45,905.32 L1321.47,908.01 L1324.49,910.72 L1327.50,913.43 L1330.52,916.15 L1333.53,918.87 L1336.55,921.61 L1339.56,924.35 L1342.58,927.10 L1345.60,929.86 L1348.61,932.63 L1351.63,935.40 L1354.64,938.17 L1357.66,940.96 L1360.67,943.75 L1363.69,946.54 L1366.71,949.34 L1369.72,952.14 L1372.74,954.94 L1375.75,957.75 L1378.77,960.57 L1381.78,963.38 L1384.80,966.20" stroke="#2c2a8e" stroke-width="2.4" fill="none" stroke-dasharray="17.6 17.4" stroke-linecap="round" stroke-dashoffset="0.78"/>
<rect x="1025.40" y="711.40" width="21.2" height="21.2" fill="none" stroke="#0a0a08" stroke-width="2.8"/>
<rect x="1097.10" y="748.60" width="21.2" height="21.2" fill="none" stroke="#0a0a08" stroke-width="2.8"/>
<rect x="1148.30" y="776.40" width="21.2" height="21.2" fill="none" stroke="#0a0a08" stroke-width="2.8"/>
<rect x="1220.10" y="825.70" width="21.2" height="21.2" fill="none" stroke="#0a0a08" stroke-width="2.8"/>
<rect x="1270.50" y="864.00" width="21.2" height="21.2" fill="none" stroke="#0a0a08" stroke-width="2.8"/>
<rect x="1310.10" y="895.70" width="21.2" height="21.2" fill="none" stroke="#0a0a08" stroke-width="2.8"/>
<rect x="1342.60" y="931.00" width="21.2" height="21.2" fill="none" stroke="#0a0a08" stroke-width="2.8"/>
<rect x="1369.60" y="961.30" width="21.2" height="21.2" fill="none" stroke="#0a0a08" stroke-width="2.8"/>
<rect x="1393.40" y="977.60" width="21.2" height="21.2" fill="none" stroke="#0a0a08" stroke-width="2.8"/>
</g>
<line x1="195.80" y1="0.90" x2="1500.00" y2="0.90" stroke="#0a0a08" stroke-width="4.2" stroke-linecap="square"/>
<line x1="195.80" y1="566.40" x2="1500.00" y2="566.40" stroke="#0a0a08" stroke-width="4.2" stroke-linecap="square"/>
<line x1="195.80" y1="1131.60" x2="1500.00" y2="1131.60" stroke="#0a0a08" stroke-width="4.2" stroke-linecap="square"/>
<line x1="195.80" y1="0.90" x2="195.80" y2="1131.60" stroke="#0a0a08" stroke-width="4.2" stroke-linecap="square"/>
<line x1="847.80" y1="0.90" x2="847.80" y2="1131.60" stroke="#0a0a08" stroke-width="4.2" stroke-linecap="square"/>
<line x1="1500.00" y1="0.90" x2="1500.00" y2="1131.60" stroke="#0a0a08" stroke-width="4.2" stroke-linecap="square"/>
<line x1="227.71" y1="553.20" x2="227.71" y2="579.30" stroke="#0a0a08" stroke-width="3.6" stroke-linecap="round"/>
<line x1="227.71" y1="1131.60" x2="227.71" y2="1118.70" stroke="#0a0a08" stroke-width="3.6" stroke-linecap="round"/>
<line x1="254.95" y1="553.20" x2="254.95" y2="579.30" stroke="#0a0a08" stroke-width="3.6" stroke-linecap="round"/>
<line x1="254.95" y1="1131.60" x2="254.95" y2="1118.70" stroke="#0a0a08" stroke-width="3.6" stroke-linecap="round"/>
<line x1="278.56" y1="553.20" x2="278.56" y2="579.30" stroke="#0a0a08" stroke-width="3.6" stroke-linecap="round"/>
<line x1="278.56" y1="1131.60" x2="278.56" y2="1118.70" stroke="#0a0a08" stroke-width="3.6" stroke-linecap="round"/>
<line x1="299.38" y1="553.20" x2="299.38" y2="579.30" stroke="#0a0a08" stroke-width="3.6" stroke-linecap="round"/>
<line x1="299.38" y1="1131.60" x2="299.38" y2="1118.70" stroke="#0a0a08" stroke-width="3.6" stroke-linecap="round"/>
<line x1="318.00" y1="540.70" x2="318.00" y2="591.80" stroke="#0a0a08" stroke-width="3.6" stroke-linecap="round"/>
<line x1="318.00" y1="1131.60" x2="318.00" y2="1106.20" stroke="#0a0a08" stroke-width="3.6" stroke-linecap="round"/>
<line x1="440.52" y1="553.20" x2="440.52" y2="579.30" stroke="#0a0a08" stroke-width="3.6" stroke-linecap="round"/>
<line x1="440.52" y1="1131.60" x2="440.52" y2="1118.70" stroke="#0a0a08" stroke-width="3.6" stroke-linecap="round"/>
<line x1="512.19" y1="553.20" x2="512.19" y2="579.30" stroke="#0a0a08" stroke-width="3.6" stroke-linecap="round"/>
<line x1="512.19" y1="1131.60" x2="512.19" y2="1118.70" stroke="#0a0a08" stroke-width="3.6" stroke-linecap="round"/>
<line x1="563.04" y1="553.20" x2="563.04" y2="579.30" stroke="#0a0a08" stroke-width="3.6" stroke-linecap="round"/>
<line x1="563.04" y1="1131.60" x2="563.04" y2="1118.70" stroke="#0a0a08" stroke-width="3.6" stroke-linecap="round"/>
<line x1="602.48" y1="540.70" x2="602.48" y2="591.80" stroke="#0a0a08" stroke-width="3.6" stroke-linecap="round"/>
<line x1="602.48" y1="1131.60" x2="602.48" y2="1106.20" stroke="#0a0a08" stroke-width="3.6" stroke-linecap="round"/>
<line x1="634.71" y1="553.20" x2="634.71" y2="579.30" stroke="#0a0a08" stroke-width="3.6" stroke-linecap="round"/>
<line x1="634.71" y1="1131.60" x2="634.71" y2="1118.70" stroke="#0a0a08" stroke-width="3.6" stroke-linecap="round"/>
<line x1="661.95" y1="553.20" x2="661.95" y2="579.30" stroke="#0a0a08" stroke-width="3.6" stroke-linecap="round"/>
<line x1="661.95" y1="1131.60" x2="661.95" y2="1118.70" stroke="#0a0a08" stroke-width="3.6" stroke-linecap="round"/>
<line x1="685.56" y1="553.20" x2="685.56" y2="579.30" stroke="#0a0a08" stroke-width="3.6" stroke-linecap="round"/>
<line x1="685.56" y1="1131.60" x2="685.56" y2="1118.70" stroke="#0a0a08" stroke-width="3.6" stroke-linecap="round"/>
<line x1="706.38" y1="553.20" x2="706.38" y2="579.30" stroke="#0a0a08" stroke-width="3.6" stroke-linecap="round"/>
<line x1="706.38" y1="1131.60" x2="706.38" y2="1118.70" stroke="#0a0a08" stroke-width="3.6" stroke-linecap="round"/>
<line x1="725.00" y1="540.70" x2="725.00" y2="591.80" stroke="#0a0a08" stroke-width="3.6" stroke-linecap="round"/>
<line x1="725.00" y1="1131.60" x2="725.00" y2="1106.20" stroke="#0a0a08" stroke-width="3.6" stroke-linecap="round"/>
<line x1="879.71" y1="553.20" x2="879.71" y2="579.30" stroke="#0a0a08" stroke-width="3.6" stroke-linecap="round"/>
<line x1="879.71" y1="1131.60" x2="879.71" y2="1118.70" stroke="#0a0a08" stroke-width="3.6" stroke-linecap="round"/>
<line x1="879.71" y1="0.90" x2="879.71" y2="13.80" stroke="#0a0a08" stroke-width="3.6" stroke-linecap="round"/>
<line x1="906.95" y1="553.20" x2="906.95" y2="579.30" stroke="#0a0a08" stroke-width="3.6" stroke-linecap="round"/>
<line x1="906.95" y1="1131.60" x2="906.95" y2="1118.70" stroke="#0a0a08" stroke-width="3.6" stroke-linecap="round"/>
<line x1="906.95" y1="0.90" x2="906.95" y2="13.80" stroke="#0a0a08" stroke-width="3.6" stroke-linecap="round"/>
<line x1="930.56" y1="553.20" x2="930.56" y2="579.30" stroke="#0a0a08" stroke-width="3.6" stroke-linecap="round"/>
<line x1="930.56" y1="1131.60" x2="930.56" y2="1118.70" stroke="#0a0a08" stroke-width="3.6" stroke-linecap="round"/>
<line x1="930.56" y1="0.90" x2="930.56" y2="13.80" stroke="#0a0a08" stroke-width="3.6" stroke-linecap="round"/>
<line x1="951.38" y1="553.20" x2="951.38" y2="579.30" stroke="#0a0a08" stroke-width="3.6" stroke-linecap="round"/>
<line x1="951.38" y1="1131.60" x2="951.38" y2="1118.70" stroke="#0a0a08" stroke-width="3.6" stroke-linecap="round"/>
<line x1="951.38" y1="0.90" x2="951.38" y2="13.80" stroke="#0a0a08" stroke-width="3.6" stroke-linecap="round"/>
<line x1="970.00" y1="540.70" x2="970.00" y2="591.80" stroke="#0a0a08" stroke-width="3.6" stroke-linecap="round"/>
<line x1="970.00" y1="1131.60" x2="970.00" y2="1106.20" stroke="#0a0a08" stroke-width="3.6" stroke-linecap="round"/>
<line x1="970.00" y1="0.90" x2="970.00" y2="26.30" stroke="#0a0a08" stroke-width="3.6" stroke-linecap="round"/>
<line x1="1092.52" y1="553.20" x2="1092.52" y2="579.30" stroke="#0a0a08" stroke-width="3.6" stroke-linecap="round"/>
<line x1="1092.52" y1="1131.60" x2="1092.52" y2="1118.70" stroke="#0a0a08" stroke-width="3.6" stroke-linecap="round"/>
<line x1="1092.52" y1="0.90" x2="1092.52" y2="13.80" stroke="#0a0a08" stroke-width="3.6" stroke-linecap="round"/>
<line x1="1164.19" y1="553.20" x2="1164.19" y2="579.30" stroke="#0a0a08" stroke-width="3.6" stroke-linecap="round"/>
<line x1="1164.19" y1="1131.60" x2="1164.19" y2="1118.70" stroke="#0a0a08" stroke-width="3.6" stroke-linecap="round"/>
<line x1="1164.19" y1="0.90" x2="1164.19" y2="13.80" stroke="#0a0a08" stroke-width="3.6" stroke-linecap="round"/>
<line x1="1215.04" y1="553.20" x2="1215.04" y2="579.30" stroke="#0a0a08" stroke-width="3.6" stroke-linecap="round"/>
<line x1="1215.04" y1="1131.60" x2="1215.04" y2="1118.70" stroke="#0a0a08" stroke-width="3.6" stroke-linecap="round"/>
<line x1="1215.04" y1="0.90" x2="1215.04" y2="13.80" stroke="#0a0a08" stroke-width="3.6" stroke-linecap="round"/>
<line x1="1254.48" y1="540.70" x2="1254.48" y2="591.80" stroke="#0a0a08" stroke-width="3.6" stroke-linecap="round"/>
<line x1="1254.48" y1="1131.60" x2="1254.48" y2="1106.20" stroke="#0a0a08" stroke-width="3.6" stroke-linecap="round"/>
<line x1="1254.48" y1="0.90" x2="1254.48" y2="26.30" stroke="#0a0a08" stroke-width="3.6" stroke-linecap="round"/>
<line x1="1286.71" y1="553.20" x2="1286.71" y2="579.30" stroke="#0a0a08" stroke-width="3.6" stroke-linecap="round"/>
<line x1="1286.71" y1="1131.60" x2="1286.71" y2="1118.70" stroke="#0a0a08" stroke-width="3.6" stroke-linecap="round"/>
<line x1="1286.71" y1="0.90" x2="1286.71" y2="13.80" stroke="#0a0a08" stroke-width="3.6" stroke-linecap="round"/>
<line x1="1313.95" y1="553.20" x2="1313.95" y2="579.30" stroke="#0a0a08" stroke-width="3.6" stroke-linecap="round"/>
<line x1="1313.95" y1="1131.60" x2="1313.95" y2="1118.70" stroke="#0a0a08" stroke-width="3.6" stroke-linecap="round"/>
<line x1="1313.95" y1="0.90" x2="1313.95" y2="13.80" stroke="#0a0a08" stroke-width="3.6" stroke-linecap="round"/>
<line x1="1337.56" y1="553.20" x2="1337.56" y2="579.30" stroke="#0a0a08" stroke-width="3.6" stroke-linecap="round"/>
<line x1="1337.56" y1="1131.60" x2="1337.56" y2="1118.70" stroke="#0a0a08" stroke-width="3.6" stroke-linecap="round"/>
<line x1="1337.56" y1="0.90" x2="1337.56" y2="13.80" stroke="#0a0a08" stroke-width="3.6" stroke-linecap="round"/>
<line x1="1358.38" y1="553.20" x2="1358.38" y2="579.30" stroke="#0a0a08" stroke-width="3.6" stroke-linecap="round"/>
<line x1="1358.38" y1="1131.60" x2="1358.38" y2="1118.70" stroke="#0a0a08" stroke-width="3.6" stroke-linecap="round"/>
<line x1="1358.38" y1="0.90" x2="1358.38" y2="13.80" stroke="#0a0a08" stroke-width="3.6" stroke-linecap="round"/>
<line x1="1377.00" y1="540.70" x2="1377.00" y2="591.80" stroke="#0a0a08" stroke-width="3.6" stroke-linecap="round"/>
<line x1="1377.00" y1="1131.60" x2="1377.00" y2="1106.20" stroke="#0a0a08" stroke-width="3.6" stroke-linecap="round"/>
<line x1="1377.00" y1="0.90" x2="1377.00" y2="26.30" stroke="#0a0a08" stroke-width="3.6" stroke-linecap="round"/>
<line x1="293.12" y1="0.90" x2="293.12" y2="13.80" stroke="#0a0a08" stroke-width="3.6" stroke-linecap="round"/>
<line x1="362.46" y1="0.90" x2="362.46" y2="13.80" stroke="#0a0a08" stroke-width="3.6" stroke-linecap="round"/>
<line x1="416.25" y1="0.90" x2="416.25" y2="26.30" stroke="#0a0a08" stroke-width="3.6" stroke-linecap="round"/>
<line x1="460.20" y1="0.90" x2="460.20" y2="13.80" stroke="#0a0a08" stroke-width="3.6" stroke-linecap="round"/>
<line x1="497.35" y1="0.90" x2="497.35" y2="13.80" stroke="#0a0a08" stroke-width="3.6" stroke-linecap="round"/>
<line x1="529.54" y1="0.90" x2="529.54" y2="13.80" stroke="#0a0a08" stroke-width="3.6" stroke-linecap="round"/>
<line x1="557.93" y1="0.90" x2="557.93" y2="13.80" stroke="#0a0a08" stroke-width="3.6" stroke-linecap="round"/>
<line x1="583.32" y1="0.90" x2="583.32" y2="26.30" stroke="#0a0a08" stroke-width="3.6" stroke-linecap="round"/>
<line x1="750.39" y1="0.90" x2="750.39" y2="13.80" stroke="#0a0a08" stroke-width="3.6" stroke-linecap="round"/>
<line x1="195.80" y1="81.90" x2="221.20" y2="81.90" stroke="#0a0a08" stroke-width="3.6" stroke-linecap="round"/>
<line x1="822.40" y1="81.90" x2="873.20" y2="81.90" stroke="#0a0a08" stroke-width="3.6" stroke-linecap="round"/>
<line x1="1474.60" y1="81.90" x2="1500.00" y2="81.90" stroke="#0a0a08" stroke-width="3.6" stroke-linecap="round"/>
<line x1="195.80" y1="162.60" x2="221.20" y2="162.60" stroke="#0a0a08" stroke-width="3.6" stroke-linecap="round"/>
<line x1="822.40" y1="162.60" x2="873.20" y2="162.60" stroke="#0a0a08" stroke-width="3.6" stroke-linecap="round"/>
<line x1="1474.60" y1="162.60" x2="1500.00" y2="162.60" stroke="#0a0a08" stroke-width="3.6" stroke-linecap="round"/>
<line x1="195.80" y1="243.30" x2="221.20" y2="243.30" stroke="#0a0a08" stroke-width="3.6" stroke-linecap="round"/>
<line x1="822.40" y1="243.30" x2="873.20" y2="243.30" stroke="#0a0a08" stroke-width="3.6" stroke-linecap="round"/>
<line x1="1474.60" y1="243.30" x2="1500.00" y2="243.30" stroke="#0a0a08" stroke-width="3.6" stroke-linecap="round"/>
<line x1="195.80" y1="324.00" x2="221.20" y2="324.00" stroke="#0a0a08" stroke-width="3.6" stroke-linecap="round"/>
<line x1="822.40" y1="324.00" x2="873.20" y2="324.00" stroke="#0a0a08" stroke-width="3.6" stroke-linecap="round"/>
<line x1="1474.60" y1="324.00" x2="1500.00" y2="324.00" stroke="#0a0a08" stroke-width="3.6" stroke-linecap="round"/>
<line x1="195.80" y1="404.70" x2="221.20" y2="404.70" stroke="#0a0a08" stroke-width="3.6" stroke-linecap="round"/>
<line x1="822.40" y1="404.70" x2="873.20" y2="404.70" stroke="#0a0a08" stroke-width="3.6" stroke-linecap="round"/>
<line x1="1474.60" y1="404.70" x2="1500.00" y2="404.70" stroke="#0a0a08" stroke-width="3.6" stroke-linecap="round"/>
<line x1="195.80" y1="485.40" x2="221.20" y2="485.40" stroke="#0a0a08" stroke-width="3.6" stroke-linecap="round"/>
<line x1="822.40" y1="485.40" x2="873.20" y2="485.40" stroke="#0a0a08" stroke-width="3.6" stroke-linecap="round"/>
<line x1="1474.60" y1="485.40" x2="1500.00" y2="485.40" stroke="#0a0a08" stroke-width="3.6" stroke-linecap="round"/>
<line x1="195.80" y1="647.40" x2="221.20" y2="647.40" stroke="#0a0a08" stroke-width="3.6" stroke-linecap="round"/>
<line x1="822.40" y1="647.40" x2="873.20" y2="647.40" stroke="#0a0a08" stroke-width="3.6" stroke-linecap="round"/>
<line x1="1474.60" y1="647.40" x2="1500.00" y2="647.40" stroke="#0a0a08" stroke-width="3.6" stroke-linecap="round"/>
<line x1="195.80" y1="728.00" x2="221.20" y2="728.00" stroke="#0a0a08" stroke-width="3.6" stroke-linecap="round"/>
<line x1="822.40" y1="728.00" x2="873.20" y2="728.00" stroke="#0a0a08" stroke-width="3.6" stroke-linecap="round"/>
<line x1="1474.60" y1="728.00" x2="1500.00" y2="728.00" stroke="#0a0a08" stroke-width="3.6" stroke-linecap="round"/>
<line x1="195.80" y1="808.60" x2="221.20" y2="808.60" stroke="#0a0a08" stroke-width="3.6" stroke-linecap="round"/>
<line x1="822.40" y1="808.60" x2="873.20" y2="808.60" stroke="#0a0a08" stroke-width="3.6" stroke-linecap="round"/>
<line x1="1474.60" y1="808.60" x2="1500.00" y2="808.60" stroke="#0a0a08" stroke-width="3.6" stroke-linecap="round"/>
<line x1="195.80" y1="889.20" x2="221.20" y2="889.20" stroke="#0a0a08" stroke-width="3.6" stroke-linecap="round"/>
<line x1="822.40" y1="889.20" x2="873.20" y2="889.20" stroke="#0a0a08" stroke-width="3.6" stroke-linecap="round"/>
<line x1="1474.60" y1="889.20" x2="1500.00" y2="889.20" stroke="#0a0a08" stroke-width="3.6" stroke-linecap="round"/>
<line x1="195.80" y1="969.80" x2="221.20" y2="969.80" stroke="#0a0a08" stroke-width="3.6" stroke-linecap="round"/>
<line x1="822.40" y1="969.80" x2="873.20" y2="969.80" stroke="#0a0a08" stroke-width="3.6" stroke-linecap="round"/>
<line x1="1474.60" y1="969.80" x2="1500.00" y2="969.80" stroke="#0a0a08" stroke-width="3.6" stroke-linecap="round"/>
<line x1="195.80" y1="1050.40" x2="221.20" y2="1050.40" stroke="#0a0a08" stroke-width="3.6" stroke-linecap="round"/>
<line x1="822.40" y1="1050.40" x2="873.20" y2="1050.40" stroke="#0a0a08" stroke-width="3.6" stroke-linecap="round"/>
<line x1="1474.60" y1="1050.40" x2="1500.00" y2="1050.40" stroke="#0a0a08" stroke-width="3.6" stroke-linecap="round"/>
<text x="88" y="95.10" font-size="50">10<tspan font-size="33.5" dy="-21.5">-11</tspan></text>
<text x="88" y="498.30" font-size="50">10<tspan font-size="33.5" dy="-21.5">-16</tspan></text>
<text x="88" y="660.20" font-size="50">10<tspan font-size="33.5" dy="-21.5">-11</tspan></text>
<text x="88" y="1063.60" font-size="50">10<tspan font-size="33.5" dy="-21.5">-16</tspan></text>
<text x="320.10" y="471.30" font-size="50">2.5 keVu<tspan font-size="35" dy="-25">-1</tspan></text>
<text x="969.50" y="471.60" font-size="50">3.75 keVu<tspan font-size="35" dy="-25">-1</tspan></text>
<text x="312.50" y="1027.30" font-size="50">5 keVu<tspan font-size="35" dy="-25">-1</tspan></text>
<text x="943.00" y="1009.90" font-size="50">6.25 keVu<tspan font-size="35" dy="-25">-1</tspan></text>
<text x="318.00" y="1186.50" font-size="50.0" text-anchor="middle">1</text>
<text x="602.48" y="1186.50" font-size="50.0" text-anchor="middle">5</text>
<text x="725.00" y="1186.50" font-size="50.0" text-anchor="middle">10</text>
<text x="970.00" y="1186.50" font-size="50.0" text-anchor="middle">1</text>
<text x="1254.48" y="1186.50" font-size="50.0" text-anchor="middle">5</text>
<text x="1377.00" y="1186.50" font-size="50.0" text-anchor="middle">10</text>
<text x="431" y="1252.7" font-size="49">&#952;<tspan font-size="34" dy="9">L</tspan><tspan dy="-9"> (mrad)</tspan></text>
<text x="1056" y="1235.2" font-size="49">&#952;<tspan font-size="34" dy="9">L</tspan><tspan dy="-9"> (mrad)</tspan></text>
<text transform="translate(48.5,435.80) rotate(-90) scale(0.995,1)" x="0" y="0" font-size="50">d&#963;/d&#937;<tspan font-size="35" dy="8">L</tspan><tspan dy="-8"> (cm</tspan><tspan font-size="35" dy="-22.5">2</tspan><tspan dy="22.5">/sr)</tspan></text>
<text transform="translate(48.5,1014.20) rotate(-90) scale(0.995,1)" x="0" y="0" font-size="50">d&#963;/d&#937;<tspan font-size="35" dy="8">L</tspan><tspan dy="-8"> (cm</tspan><tspan font-size="35" dy="-22.5">2</tspan><tspan dy="22.5">/sr)</tspan></text>
</svg></body></html>
